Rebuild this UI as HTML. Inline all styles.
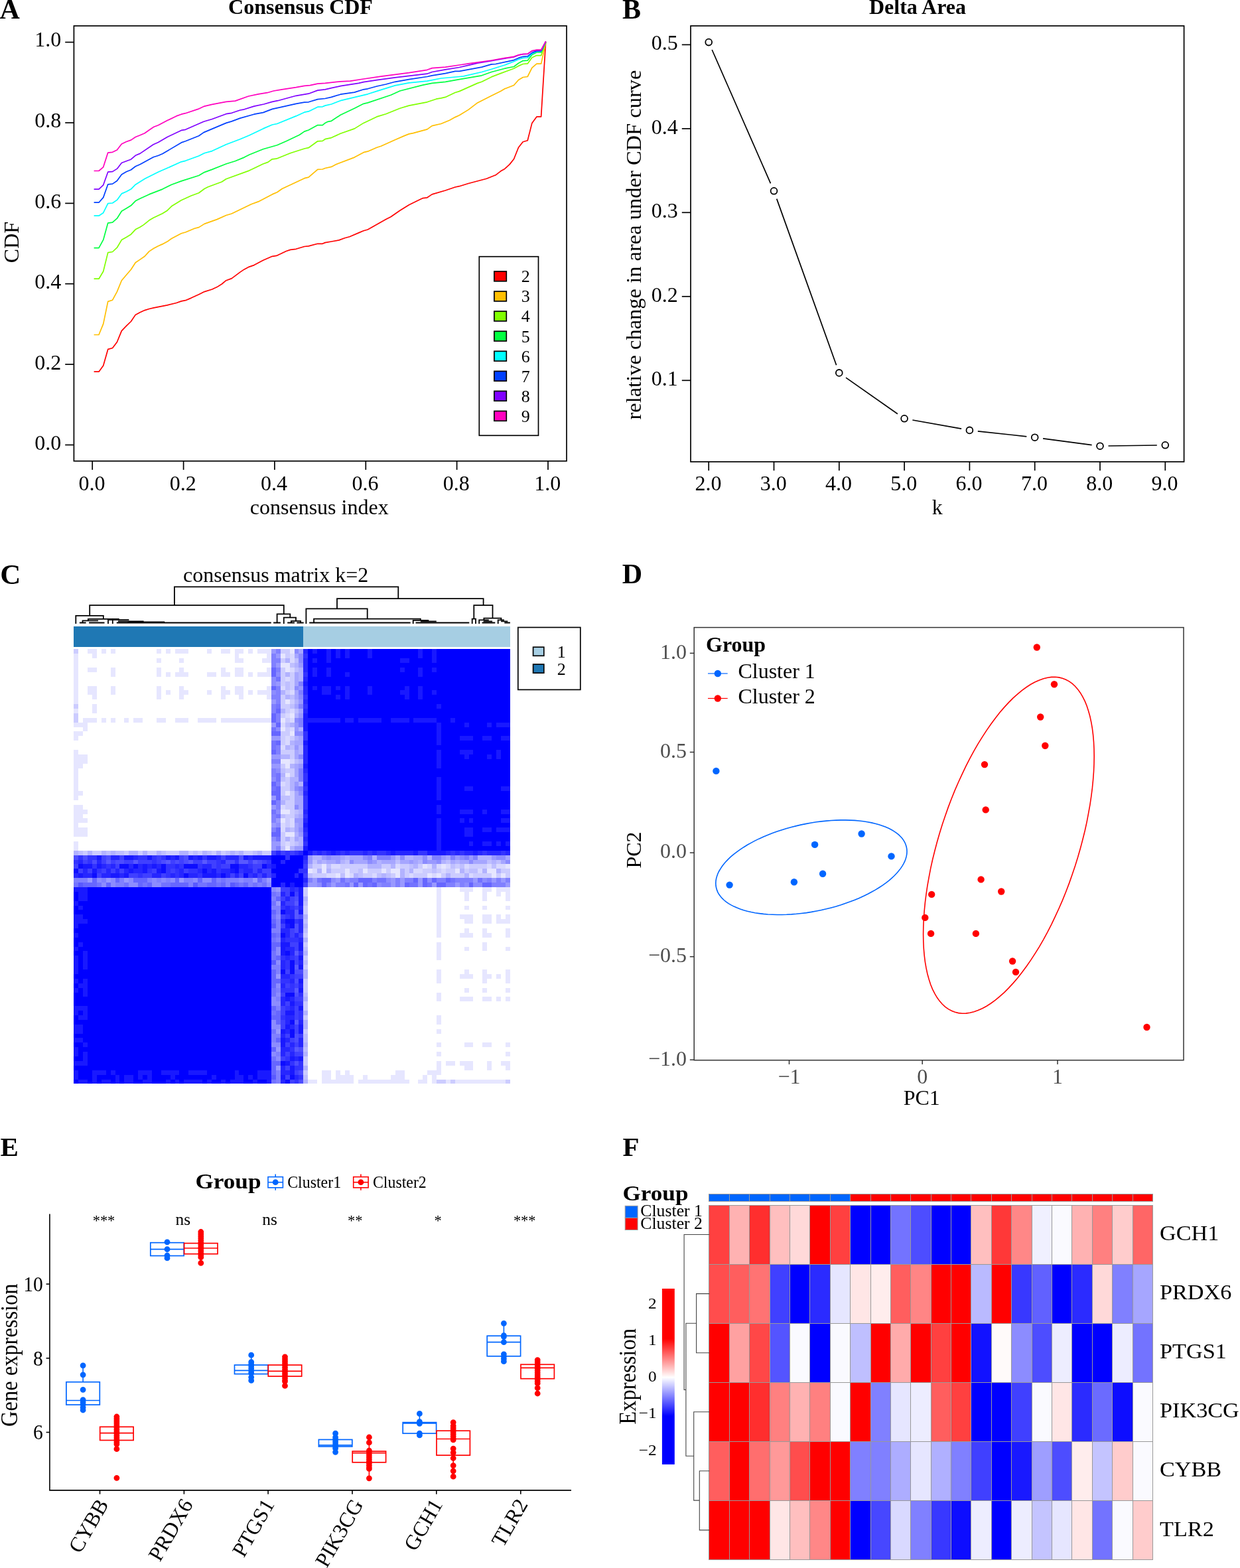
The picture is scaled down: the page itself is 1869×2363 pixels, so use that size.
<!DOCTYPE html>
<html lang="en">
<head>
<meta charset="utf-8">
<title>Consensus clustering figure</title>
<style>
html,body{margin:0;padding:0;background:#fff;}
body{width:1869px;height:2363px;overflow:hidden;}
svg{display:block;}
svg text{font-family:'Liberation Serif', 'DejaVu Serif', serif;}
</style>
</head>
<body>
<svg width="1869" height="2363" viewBox="0 0 1869 2363">
<rect width="1869" height="2363" fill="#fff"/>
<g id="panelA">
<text x="-0.4" y="28.1" font-size="42" font-weight="bold">A</text>
<text x="453" y="21.3" font-size="32" text-anchor="middle" font-weight="bold">Consensus CDF</text>
<rect x="111.4" y="39" width="742.6" height="655.8" fill="none" stroke="#000" stroke-width="1.7"/>
<line x1="98.2" y1="670.5" x2="111.4" y2="670.5" stroke="#000" stroke-width="1.7"/>
<text x="92.2" y="678.2" font-size="32" text-anchor="end">0.0</text>
<line x1="139.2" y1="694.8" x2="139.2" y2="708" stroke="#000" stroke-width="1.7"/>
<text x="138.4" y="738.5" font-size="32" text-anchor="middle">0.0</text>
<line x1="98.2" y1="549.1" x2="111.4" y2="549.1" stroke="#000" stroke-width="1.7"/>
<text x="92.2" y="556.6" font-size="32" text-anchor="end">0.2</text>
<line x1="276.6" y1="694.8" x2="276.6" y2="708" stroke="#000" stroke-width="1.7"/>
<text x="275.8" y="738.5" font-size="32" text-anchor="middle">0.2</text>
<line x1="98.2" y1="427.7" x2="111.4" y2="427.7" stroke="#000" stroke-width="1.7"/>
<text x="92.2" y="435.1" font-size="32" text-anchor="end">0.4</text>
<line x1="413.9" y1="694.8" x2="413.9" y2="708" stroke="#000" stroke-width="1.7"/>
<text x="413.1" y="738.5" font-size="32" text-anchor="middle">0.4</text>
<line x1="98.2" y1="306.4" x2="111.4" y2="306.4" stroke="#000" stroke-width="1.7"/>
<text x="92.2" y="313.5" font-size="32" text-anchor="end">0.6</text>
<line x1="551.3" y1="694.8" x2="551.3" y2="708" stroke="#000" stroke-width="1.7"/>
<text x="550.5" y="738.5" font-size="32" text-anchor="middle">0.6</text>
<line x1="98.2" y1="185" x2="111.4" y2="185" stroke="#000" stroke-width="1.7"/>
<text x="92.2" y="192" font-size="32" text-anchor="end">0.8</text>
<line x1="688.6" y1="694.8" x2="688.6" y2="708" stroke="#000" stroke-width="1.7"/>
<text x="687.8" y="738.5" font-size="32" text-anchor="middle">0.8</text>
<line x1="98.2" y1="63.6" x2="111.4" y2="63.6" stroke="#000" stroke-width="1.7"/>
<text x="92.2" y="70.4" font-size="32" text-anchor="end">1.0</text>
<line x1="826" y1="694.8" x2="826" y2="708" stroke="#000" stroke-width="1.7"/>
<text x="825.2" y="738.5" font-size="32" text-anchor="middle">1.0</text>
<text transform="translate(28,365) rotate(-90)" font-size="32" text-anchor="middle">CDF</text>
<text x="481.2" y="774.6" font-size="32" text-anchor="middle">consensus index</text>
<polyline points="141.6,560.2 149,560.2 155.7,550.9 162.7,526.4 169.6,524.5 176.4,515.5 183.3,498.6 190.5,491.2 197.4,484.5 204.2,474.4 211.1,470.8 218.1,467.6 224.8,465.5 231.8,463.8 252.2,459.8 265.9,456.5 273.3,453.9 279.6,452.7 288.1,449.1 299.7,443.8 308.1,439.6 319.7,436 327.1,432.6 334.4,428 340.8,422.7 349.2,419.6 361.9,410.1 368.2,405.9 375.6,402.1 382.9,399.6 396.6,392.2 410.3,386.3 416.7,385.4 431.4,378.5 437.7,376.4 446.2,375.3 458.8,371.5 465.1,370.9 478.8,367.3 486.2,367.3 490,365.6 499.5,364 511.1,361.9 519.5,358.7 526.9,356.8 540.6,350.9 548,347.7 554.3,346 568,338.2 581.7,330.4 589.1,326.7 602.8,317.2 616.5,308.7 630.2,302 637.5,298.6 643.9,297.8 651.2,292.9 671.3,287 686,282 692.3,280.7 706,276.5 733.4,269.3 747.1,263.8 754.5,258.1 760.8,254.4 768.2,247.6 774.5,239.8 781.5,222.3 788.2,213.7 795.2,211.8 801.9,185.4 808.9,175.9 815.6,175.9 822.6,62.8" fill="none" stroke="#FF0000" stroke-width="1.7" stroke-linejoin="round"/>
<polyline points="141.6,504.5 149,504.5 155.7,488.1 162.7,454.4 169.6,452.2 176.4,439.6 183.3,422.7 190.5,414.3 197.4,406.3 204.2,395.8 211.1,391.1 218.1,386.3 224.8,378.9 231.8,374.3 238.5,370.7 244.9,367.9 252.2,364.1 258.6,359.5 273.3,351.7 279.6,350 293.3,344.3 299.7,342.6 308.1,337.4 327.1,330.6 340.8,324.5 349.2,322 378.7,307.7 389.3,303.9 410.3,292.9 417.7,289.8 425.1,284.5 458.8,268.7 465.1,267.2 478.8,255.4 486.2,255 490,253.5 499.5,251.4 506.9,247.6 534.3,237.1 548,229.7 554.3,228.2 568,222.3 574.3,220.2 595.4,210.7 610.1,204.4 616.5,201.9 622.8,200.6 643.9,194.9 651.2,189.6 664.9,186.5 677.6,181.2 686,176.6 692.3,173.8 706,165.4 719.7,154.9 740.8,144.3 754.5,137.4 760.8,133.8 774.5,128.5 781.5,120.5 788.2,116.5 795.2,115.5 801.9,102.2 808.9,96.1 815.6,96.1 822.6,64.2" fill="none" stroke="#FFBF00" stroke-width="1.7" stroke-linejoin="round"/>
<polyline points="141.6,420.2 149,420.2 155.7,409 162.7,380.6 169.6,379.5 176.4,373.2 183.3,361.6 190.5,357.4 197.4,353.2 204.2,345.8 211.1,342.2 216.4,338.9 224.8,332.1 231.2,328.3 244.9,321.8 252.2,317.2 258.6,310.8 273.3,301.8 288.1,295 299.7,290.8 308.1,284.5 313.4,281.8 334.4,274 340.8,269.7 375.6,257.1 396.6,247 404,244.4 410.3,239.8 416.7,239.2 437.7,230.7 458.8,224 465.1,222.7 478.8,212.8 486.2,212.4 490,209.7 499.5,207.6 513.2,201.2 534.3,193.9 548,185.4 568,175.9 581.7,171.7 602.8,163.3 616.5,159.1 643.9,153.8 657.6,149.2 664.9,147.9 671.3,146.4 686,139.5 692.3,137.6 719.7,125.4 726.1,123.3 740.8,115.9 754.5,110.6 774.5,103.2 781.5,99.4 788.2,96.5 795.2,95.9 801.9,86.8 808.9,83.6 815.6,83.6 822.6,63.6" fill="none" stroke="#80FF00" stroke-width="1.7" stroke-linejoin="round"/>
<polyline points="141.6,373.7 149,373.7 155.7,361.4 162.7,336.1 169.6,335.1 176.4,329.2 183.3,318.2 190.5,314 197.4,309.8 204.2,302.8 211.1,299.3 224.8,292.9 244.9,285.1 258.6,278.2 273.3,272.9 299.7,264.5 308.1,259.6 319.7,255.4 340.8,247 354.5,242.8 368.2,237.1 375.6,233.3 396.6,224.8 417.7,218.7 431.4,212.8 451.4,203.3 458.8,198.1 465.1,196 478.8,188.6 486.2,188.6 490,185.4 494.2,183.3 499.5,182.3 513.2,173.2 534.3,163.3 548,156.3 554.3,154.9 589.1,143.3 602.8,137 637.5,128.1 651.2,125.4 671.3,123.3 692.3,119.7 726.1,113.8 740.8,108.5 760.8,103.2 774.5,100.5 781.5,95.2 788.2,91.6 795.2,91.2 801.9,82.6 808.9,79 815.6,79 822.6,63.2" fill="none" stroke="#00FF40" stroke-width="1.7" stroke-linejoin="round"/>
<polyline points="141.6,325.2 149,325.2 155.7,320.7 162.7,306.6 169.6,306 176.4,301.4 183.3,291.9 190.5,288.7 197.4,285.1 204.2,278.2 218.5,269.3 238.5,259.2 252.2,253.3 273.3,243.8 279.6,242.3 299.7,235 308.1,230.7 319.7,227.6 340.8,217.7 361.9,209.7 375.6,204 396.6,193.9 410.3,188 417.7,186.5 446.2,174.9 458.8,169.2 465.1,167.9 478.8,161.2 486.2,160.8 490,159.1 499.5,157 513.2,151.7 554.3,141.8 568,137.4 595.4,128.9 616.5,124.9 643.9,122.2 664.9,118 692.3,115.5 698.7,114.8 726.1,108.5 740.8,104.3 760.8,98 774.5,92.7 781.5,89.5 788.2,87.4 795.2,87 801.9,81.1 808.9,77.5 815.6,77.5 822.6,62.8" fill="none" stroke="#00FFFF" stroke-width="1.7" stroke-linejoin="round"/>
<polyline points="141.6,305.2 149,305.2 155.7,297.6 162.7,277.8 169.6,277.1 176.4,272.5 183.3,263 190.5,258.8 197.4,256 204.2,250.8 211.1,247.8 231.2,236.7 238.5,234.5 244.9,231.8 273.3,214.9 279.6,212.8 299.7,204.8 307,199.6 340.8,185.4 349.2,182.9 361.9,178.1 382.9,172.2 396.6,169.6 410.3,164.4 425.1,161.2 446.2,156.3 458.8,154.2 465.1,153.8 478.8,149.6 490,148.5 499.5,146.4 513.2,142.2 534.3,139.1 548,134.8 554.3,133.8 568,130 581.7,127 595.4,123.3 616.5,119.7 643.9,115.5 651.2,113.8 671.3,110.6 686,107.4 692.3,107.4 726.1,101.1 740.8,96.9 747.1,96.5 774.5,90.6 781.5,87.4 788.2,85.3 795.2,84.9 801.9,79.6 808.9,76.9 815.6,76.9 822.6,62.8" fill="none" stroke="#0040FF" stroke-width="1.7" stroke-linejoin="round"/>
<polyline points="141.6,285.1 149,285.1 155.7,278.8 162.7,259.2 169.6,258.6 176.4,254.4 183.3,245.5 190.5,242.8 197.4,240.2 204.2,234.3 211.1,231.4 231.2,217.7 238.5,214.5 252.2,206.5 273.3,196.4 279.6,195.3 307,183.3 319.7,179.5 340.8,171.7 349.2,170.3 361.9,166 368.2,164.8 382.9,160.1 397.7,157 410.3,153.4 418.8,151.7 446.2,144.3 465.1,141.2 478.8,136.1 490,134.8 499.5,132.7 513.2,129.6 540.6,125.4 548,123.7 568,120.7 595.4,116.9 643.9,111.2 651.2,108.5 671.3,104.9 692.3,101.5 706,98.4 719.7,95.2 740.8,91.6 754.5,89.1 774.5,85.9 781.5,83.2 788.2,81.7 795.2,81.5 801.9,76.9 808.9,75.8 815.6,75.8 822.6,62.3" fill="none" stroke="#8000FF" stroke-width="1.7" stroke-linejoin="round"/>
<polyline points="141.6,257.5 149,257.5 155.7,251.8 162.7,230.1 169.6,229.3 176.4,225.9 183.3,217 190.5,213.5 197.4,211.1 204.2,206.5 211.1,203.8 218.1,200.8 224.8,196 231.8,191.3 238.5,188.8 252.2,181.6 265.9,174.9 273.3,172.2 279.6,170.7 298.6,164.4 308.1,160.1 319.7,157.4 340.8,153.4 354.5,152.1 374.5,145 389.3,141.8 403,139.7 412.4,137 425.1,134.8 446.2,131.7 458.8,129.4 467.2,128.7 478.8,126.2 490,125.4 513.2,122.8 527.9,122.2 548,119 574.3,115.2 616.5,109.6 643.9,105.3 651.2,102.6 671.3,101.1 692.3,98 706,95.9 740.8,91 754.5,88.5 774.5,85.3 781.5,82.8 788.2,81.5 795.2,81.1 801.9,76.5 808.9,75.2 815.6,75.2 822.6,62.3" fill="none" stroke="#FF00BF" stroke-width="1.7" stroke-linejoin="round"/>
<rect x="722.3" y="386.7" width="89.2" height="269.6" fill="#fff" stroke="#000" stroke-width="1.7"/>
<rect x="744.9" y="409" width="18.4" height="14.8" fill="#FF0000" stroke="#000" stroke-width="1.7"/>
<text x="785.8" y="425.3" font-size="26">2</text>
<rect x="744.9" y="439.1" width="18.4" height="14.8" fill="#FFBF00" stroke="#000" stroke-width="1.7"/>
<text x="785.8" y="455.4" font-size="26">3</text>
<rect x="744.9" y="469.1" width="18.4" height="14.8" fill="#80FF00" stroke="#000" stroke-width="1.7"/>
<text x="785.8" y="485.4" font-size="26">4</text>
<rect x="744.9" y="499.2" width="18.4" height="14.8" fill="#00FF40" stroke="#000" stroke-width="1.7"/>
<text x="785.8" y="515.5" font-size="26">5</text>
<rect x="744.9" y="529.3" width="18.4" height="14.8" fill="#00FFFF" stroke="#000" stroke-width="1.7"/>
<text x="785.8" y="545.6" font-size="26">6</text>
<rect x="744.9" y="559.4" width="18.4" height="14.8" fill="#0040FF" stroke="#000" stroke-width="1.7"/>
<text x="785.8" y="575.6" font-size="26">7</text>
<rect x="744.9" y="589.4" width="18.4" height="14.8" fill="#8000FF" stroke="#000" stroke-width="1.7"/>
<text x="785.8" y="605.7" font-size="26">8</text>
<rect x="744.9" y="619.5" width="18.4" height="14.8" fill="#FF00BF" stroke="#000" stroke-width="1.7"/>
<text x="785.8" y="635.8" font-size="26">9</text>
</g>
<g id="panelB">
<text x="938" y="28" font-size="42" font-weight="bold">B</text>
<text x="1383" y="21.3" font-size="32" text-anchor="middle" font-weight="bold">Delta Area</text>
<rect x="1041" y="39" width="743.6" height="656.9" fill="none" stroke="#000" stroke-width="1.7"/>
<line x1="1027.8" y1="573.3" x2="1041" y2="573.3" stroke="#000" stroke-width="1.7"/>
<text x="1021.8" y="581.1" font-size="32" text-anchor="end">0.1</text>
<line x1="1027.8" y1="446.8" x2="1041" y2="446.8" stroke="#000" stroke-width="1.7"/>
<text x="1021.8" y="454.6" font-size="32" text-anchor="end">0.2</text>
<line x1="1027.8" y1="320.3" x2="1041" y2="320.3" stroke="#000" stroke-width="1.7"/>
<text x="1021.8" y="328.1" font-size="32" text-anchor="end">0.3</text>
<line x1="1027.8" y1="193.9" x2="1041" y2="193.9" stroke="#000" stroke-width="1.7"/>
<text x="1021.8" y="201.7" font-size="32" text-anchor="end">0.4</text>
<line x1="1027.8" y1="67.4" x2="1041" y2="67.4" stroke="#000" stroke-width="1.7"/>
<text x="1021.8" y="75.2" font-size="32" text-anchor="end">0.5</text>
<line x1="1068.2" y1="695.9" x2="1068.2" y2="709.2" stroke="#000" stroke-width="1.7"/>
<text x="1067.4" y="738.5" font-size="32" text-anchor="middle">2.0</text>
<line x1="1166.5" y1="695.9" x2="1166.5" y2="709.2" stroke="#000" stroke-width="1.7"/>
<text x="1165.7" y="738.5" font-size="32" text-anchor="middle">3.0</text>
<line x1="1264.8" y1="695.9" x2="1264.8" y2="709.2" stroke="#000" stroke-width="1.7"/>
<text x="1264" y="738.5" font-size="32" text-anchor="middle">4.0</text>
<line x1="1363.1" y1="695.9" x2="1363.1" y2="709.2" stroke="#000" stroke-width="1.7"/>
<text x="1362.3" y="738.5" font-size="32" text-anchor="middle">5.0</text>
<line x1="1461.4" y1="695.9" x2="1461.4" y2="709.2" stroke="#000" stroke-width="1.7"/>
<text x="1460.6" y="738.5" font-size="32" text-anchor="middle">6.0</text>
<line x1="1559.7" y1="695.9" x2="1559.7" y2="709.2" stroke="#000" stroke-width="1.7"/>
<text x="1558.9" y="738.5" font-size="32" text-anchor="middle">7.0</text>
<line x1="1658" y1="695.9" x2="1658" y2="709.2" stroke="#000" stroke-width="1.7"/>
<text x="1657.2" y="738.5" font-size="32" text-anchor="middle">8.0</text>
<line x1="1756.3" y1="695.9" x2="1756.3" y2="709.2" stroke="#000" stroke-width="1.7"/>
<text x="1755.5" y="738.5" font-size="32" text-anchor="middle">9.0</text>
<text transform="translate(966,369.1) rotate(-90)" font-size="32.5" text-anchor="middle">relative change in area under CDF curve</text>
<text x="1412.8" y="774.6" font-size="32" text-anchor="middle">k</text>
<line x1="1073.2" y1="75" x2="1161.5" y2="276.4" stroke="#000" stroke-width="1.7"/>
<line x1="1170.7" y1="299.6" x2="1260.6" y2="550.2" stroke="#000" stroke-width="1.7"/>
<line x1="1275" y1="569.1" x2="1352.9" y2="623.7" stroke="#000" stroke-width="1.7"/>
<line x1="1375.4" y1="633" x2="1449.1" y2="646.2" stroke="#000" stroke-width="1.7"/>
<line x1="1473.8" y1="649.8" x2="1547.3" y2="657.8" stroke="#000" stroke-width="1.7"/>
<line x1="1572.1" y1="660.8" x2="1645.6" y2="670.6" stroke="#000" stroke-width="1.7"/>
<line x1="1670.5" y1="672" x2="1743.8" y2="671" stroke="#000" stroke-width="1.7"/>
<circle cx="1068.2" cy="63.6" r="4.9" fill="none" stroke="#000" stroke-width="1.8"/>
<circle cx="1166.5" cy="287.8" r="4.9" fill="none" stroke="#000" stroke-width="1.8"/>
<circle cx="1264.8" cy="561.9" r="4.9" fill="none" stroke="#000" stroke-width="1.8"/>
<circle cx="1363.1" cy="630.8" r="4.9" fill="none" stroke="#000" stroke-width="1.8"/>
<circle cx="1461.4" cy="648.4" r="4.9" fill="none" stroke="#000" stroke-width="1.8"/>
<circle cx="1559.7" cy="659.2" r="4.9" fill="none" stroke="#000" stroke-width="1.8"/>
<circle cx="1658" cy="672.2" r="4.9" fill="none" stroke="#000" stroke-width="1.8"/>
<circle cx="1756.3" cy="670.8" r="4.9" fill="none" stroke="#000" stroke-width="1.8"/>
</g>
<g id="panelC">
<text x="0.3" y="879.6" font-size="43" font-weight="bold">C</text>
<text x="415.6" y="877.2" font-size="32" text-anchor="middle">consensus matrix k=2</text>
<path d="M262.9 884.3L600.3 884.3M262.9 884.3L262.9 912.1M600.3 884.3L600.3 902.1M135.2 912.1L427.8 912.1M135.2 912.1L135.2 927.9M427.8 912.1L427.8 925.3M114.3 927.9L155.8 927.9M114.3 927.9L114.3 939.1M155.8 927.9L155.8 932.9M132.9 932.9L178.8 932.9M124.5 935.3L147.2 935.3M164 934.2L193.5 934.2M178.8 936.4L215.7 936.4M193.5 937.4L247.3 937.4M120.8 938.5L128.7 938.5M135 938.5L156.6 938.5M176.7 938.5L407.8 938.5M163 934.2L163 939.1M169.8 934.2L169.8 939.1M132.9 932.9L132.9 935.3M124.5 935.3L124.5 938.5M417.6 925.3L437.3 925.3M417.6 925.3L417.6 938.5M413 938.5L422 938.5M437.3 925.3L437.3 930.6M427.8 930.6L446 930.6M427.8 930.6L427.8 939.1M446 930.6L446 935.8M438.9 935.8L453.1 935.8M438.9 935.8L438.9 938.5M453.1 935.8L453.1 938.5M434.1 938.5L443.1 938.5M448.3 938.5L456.8 938.5M508 902.1L728.6 902.1M508 902.1L508 917.4M728.6 902.1L728.6 912.1M461.4 917.4L553.7 917.4M461.4 917.4L461.4 939.1M553.7 917.4L553.7 932.7M473.1 932.7L633.8 932.7M473.1 932.7L473.1 938.5M467.1 938.5L617.8 938.5M622.7 934.8L622.7 939.1M622.7 934.8L645.3 934.8M634.8 936.4L656.9 936.4M627.4 938.5L706.4 938.5M633.8 932.7L633.8 934.8M714.3 912.1L742.5 912.1M714.3 912.1L714.3 932.7M711.7 932.7L717 932.7M711.7 932.7L711.7 939.1M717 932.7L717 939.1M742.5 912.1L742.5 931.6M729.4 931.6L755.4 931.6M729.4 931.6L729.4 934.3M722.2 934.3L735.9 934.3M722.2 934.3L722.2 939.1M729.6 936.4L741.2 936.4M727.5 938.5L745.4 938.5M755.4 931.6L755.4 934.3M750.7 934.3L759.1 934.3M750.7 934.3L750.7 939.1M756 936.4L764.4 936.4M761.2 938.5L768 938.5" fill="none" stroke="#000" stroke-width="1.8" stroke-linecap="square"/>
<g shape-rendering="crispEdges">
<rect x="111.2" y="943.8" width="346.1" height="31.3" fill="#1F78B4"/>
<rect x="457.3" y="943.8" width="311.5" height="31.3" fill="#A6CEE3"/>
</g>
<g shape-rendering="crispEdges">
<path fill="#0000FF" d="M464.2 978.3H471.1V985.2H464.2zM478.1 978.3H491.9V985.2H478.1zM498.8 978.3H505.8V985.2H498.8zM512.7 978.3H519.6V985.2H512.7zM526.5 978.3H554.2V985.2H526.5zM561.1 978.3H630.4V985.2H561.1zM637.3 978.3H651.1V985.2H637.3zM658 978.3H768.8V985.2H658zM464.2 985.2H491.9V992.1H464.2zM498.8 985.2H505.8V992.1H498.8zM512.7 985.2H519.6V992.1H512.7zM526.5 985.2H554.2V992.1H526.5zM561.1 985.2H630.4V992.1H561.1zM637.3 985.2H651.1V992.1H637.3zM658 985.2H768.8V992.1H658zM464.2 992.1H471.1V999H464.2zM478.1 992.1H491.9V999H478.1zM498.8 992.1H602.7V999H498.8zM616.5 992.1H651.1V999H616.5zM658 992.1H768.8V999H658zM464.2 999H768.8V1005.9H464.2zM464.2 1005.9H471.1V1012.8H464.2zM478.1 1005.9H491.9V1012.8H478.1zM498.8 1005.9H602.7V1012.8H498.8zM609.6 1005.9H630.4V1012.8H609.6zM637.3 1005.9H651.1V1012.8H637.3zM658 1005.9H768.8V1012.8H658zM464.2 1012.8H471.1V1019.7H464.2zM478.1 1012.8H491.9V1019.7H478.1zM498.8 1012.8H519.6V1019.7H498.8zM526.5 1012.8H630.4V1019.7H526.5zM637.3 1012.8H768.8V1019.7H637.3zM464.2 1019.7H768.8V1026.6H464.2zM464.2 1026.6H768.8V1033.5H464.2zM464.2 1033.5H471.1V1040.4H464.2zM478.1 1033.5H485V1040.4H478.1zM498.8 1033.5H505.8V1040.4H498.8zM512.7 1033.5H519.6V1040.4H512.7zM526.5 1033.5H554.2V1040.4H526.5zM561.1 1033.5H609.6V1040.4H561.1zM616.5 1033.5H630.4V1040.4H616.5zM637.3 1033.5H768.8V1040.4H637.3zM464.2 1040.4H485V1047.3H464.2zM498.8 1040.4H519.6V1047.3H498.8zM526.5 1040.4H554.2V1047.3H526.5zM561.1 1040.4H602.7V1047.3H561.1zM616.5 1040.4H630.4V1047.3H616.5zM637.3 1040.4H651.1V1047.3H637.3zM658 1040.4H768.8V1047.3H658zM464.2 1047.3H505.8V1054.2H464.2zM512.7 1047.3H519.6V1054.2H512.7zM526.5 1047.3H609.6V1054.2H526.5zM616.5 1047.3H630.4V1054.2H616.5zM637.3 1047.3H768.8V1054.2H637.3zM464.2 1054.2H768.8V1061H464.2zM464.2 1061H658V1067.9H464.2zM665 1061H768.8V1067.9H665zM464.2 1067.9H768.8V1074.8H464.2zM464.2 1074.8H768.8V1081.7H464.2zM512.7 1081.7H519.6V1088.6H512.7zM533.4 1081.7H540.4V1088.6H533.4zM575 1081.7H588.8V1088.6H575zM616.5 1081.7H623.4V1088.6H616.5zM658 1081.7H678.8V1088.6H658zM685.7 1081.7H768.8V1088.6H685.7zM464.2 1088.6H658V1095.5H464.2zM665 1088.6H699.6V1095.5H665zM706.5 1088.6H734.2V1095.5H706.5zM741.1 1088.6H748V1095.5H741.1zM464.2 1095.5H658V1102.4H464.2zM665 1095.5H768.8V1102.4H665zM464.2 1102.4H658V1109.3H464.2zM665 1102.4H768.8V1109.3H665zM464.2 1109.3H658V1116.2H464.2zM665 1109.3H692.7V1116.2H665zM713.4 1109.3H727.3V1116.2H713.4zM741.1 1109.3H755V1116.2H741.1zM464.2 1116.2H658V1123.1H464.2zM665 1116.2H768.8V1123.1H665zM464.2 1123.1H768.8V1130H464.2zM464.2 1130H658V1136.9H464.2zM665 1130H692.7V1136.9H665zM713.4 1130H748V1136.9H713.4zM755 1130H768.8V1136.9H755zM464.2 1136.9H658V1143.8H464.2zM665 1136.9H699.6V1143.8H665zM706.5 1136.9H734.2V1143.8H706.5zM741.1 1136.9H748V1143.8H741.1zM755 1136.9H768.8V1143.8H755zM464.2 1143.8H658V1150.7H464.2zM665 1143.8H768.8V1150.7H665zM464.2 1150.7H658V1157.6H464.2zM665 1150.7H768.8V1157.6H665zM464.2 1157.6H768.8V1164.5H464.2zM464.2 1164.5H768.8V1171.4H464.2zM464.2 1171.4H658V1178.3H464.2zM665 1171.4H768.8V1178.3H665zM464.2 1178.3H658V1185.2H464.2zM665 1178.3H768.8V1185.2H665zM464.2 1185.2H658V1192.1H464.2zM665 1185.2H699.6V1192.1H665zM713.4 1185.2H755V1192.1H713.4zM464.2 1192.1H658V1199H464.2zM665 1192.1H768.8V1199H665zM464.2 1199H658V1205.9H464.2zM665 1199H768.8V1205.9H665zM464.2 1205.9H768.8V1212.8H464.2zM464.2 1212.8H658V1219.7H464.2zM665 1212.8H768.8V1219.7H665zM464.2 1219.7H658V1226.5H464.2zM665 1219.7H692.7V1226.5H665zM713.4 1219.7H727.3V1226.5H713.4zM734.2 1219.7H755V1226.5H734.2zM464.2 1226.5H768.8V1233.4H464.2zM464.2 1233.4H658V1240.3H464.2zM665 1233.4H692.7V1240.3H665zM699.6 1233.4H706.5V1240.3H699.6zM713.4 1233.4H755V1240.3H713.4zM464.2 1240.3H658V1247.2H464.2zM665 1240.3H768.8V1247.2H665zM464.2 1247.2H658V1254.1H464.2zM665 1247.2H699.6V1254.1H665zM713.4 1247.2H727.3V1254.1H713.4zM741.1 1247.2H748V1254.1H741.1zM464.2 1254.1H658V1261H464.2zM665 1254.1H699.6V1261H665zM713.4 1254.1H768.8V1261H713.4zM464.2 1261H658V1267.9H464.2zM665 1261H768.8V1267.9H665zM464.2 1267.9H658V1274.8H464.2zM665 1267.9H706.5V1274.8H665zM713.4 1267.9H727.3V1274.8H713.4zM741.1 1267.9H748V1274.8H741.1zM755 1267.9H761.9V1274.8H755zM464.2 1274.8H658V1281.7H464.2zM665 1274.8H768.8V1281.7H665zM457.3 1281.7H464.2V1288.6H457.3zM408.9 1288.6H429.6V1295.5H408.9zM436.5 1288.6H457.3V1295.5H436.5zM408.9 1295.5H422.7V1302.4H408.9zM429.6 1295.5H457.3V1302.4H429.6zM415.8 1302.4H457.3V1309.3H415.8zM408.9 1309.3H450.4V1316.2H408.9zM415.8 1316.2H443.5V1323.1H415.8zM450.4 1316.2H457.3V1323.1H450.4zM408.9 1323.1H457.3V1330H408.9zM408.9 1330H422.7V1336.9H408.9zM429.6 1330H436.5V1336.9H429.6zM443.5 1330H457.3V1336.9H443.5zM132 1336.9H408.9V1343.8H132zM111.2 1343.8H118.1V1350.7H111.2zM132 1343.8H408.9V1350.7H132zM111.2 1350.7H118.1V1357.6H111.2zM132 1350.7H408.9V1357.6H132zM118.1 1357.6H408.9V1364.5H118.1zM111.2 1364.5H118.1V1371.4H111.2zM125 1364.5H408.9V1371.4H125zM111.2 1371.4H408.9V1378.3H111.2zM125 1378.3H408.9V1385.2H125zM132 1385.2H408.9V1392H132zM118.1 1392H408.9V1398.9H118.1zM111.2 1398.9H408.9V1405.8H111.2zM118.1 1405.8H408.9V1412.7H118.1zM111.2 1412.7H408.9V1419.6H111.2zM111.2 1419.6H118.1V1426.5H111.2zM125 1419.6H408.9V1426.5H125zM118.1 1426.5H408.9V1433.4H118.1zM111.2 1433.4H125V1440.3H111.2zM132 1433.4H408.9V1440.3H132zM118.1 1440.3H125V1447.2H118.1zM132 1440.3H408.9V1447.2H132zM118.1 1447.2H125V1454.1H118.1zM132 1447.2H408.9V1454.1H132zM118.1 1454.1H125V1461H118.1zM132 1454.1H408.9V1461H132zM118.1 1461H408.9V1467.9H118.1zM111.2 1467.9H408.9V1474.8H111.2zM118.1 1474.8H125V1481.7H118.1zM132 1474.8H408.9V1481.7H132zM111.2 1481.7H118.1V1488.6H111.2zM132 1481.7H408.9V1488.6H132zM118.1 1488.6H125V1495.5H118.1zM132 1488.6H408.9V1495.5H132zM111.2 1495.5H125V1502.4H111.2zM132 1495.5H408.9V1502.4H132zM111.2 1502.4H408.9V1509.3H111.2zM111.2 1509.3H408.9V1516.2H111.2zM132 1516.2H408.9V1523.1H132zM118.1 1523.1H125V1530H118.1zM132 1523.1H408.9V1530H132zM111.2 1530H118.1V1536.9H111.2zM132 1530H408.9V1536.9H132zM111.2 1536.9H408.9V1543.8H111.2zM125 1543.8H408.9V1550.7H125zM125 1550.7H408.9V1557.5H125zM111.2 1557.5H408.9V1564.4H111.2zM125 1564.4H408.9V1571.3H125zM111.2 1571.3H125V1578.2H111.2zM132 1571.3H408.9V1578.2H132zM118.1 1578.2H408.9V1585.1H118.1zM118.1 1585.1H125V1592H118.1zM132 1585.1H408.9V1592H132zM111.2 1592H125V1598.9H111.2zM132 1592H408.9V1598.9H132zM132 1598.9H408.9V1605.8H132zM111.2 1605.8H408.9V1612.7H111.2zM118.1 1612.7H138.9V1619.6H118.1zM159.7 1612.7H166.6V1619.6H159.7zM173.5 1612.7H208.1V1619.6H173.5zM228.9 1612.7H242.7V1619.6H228.9zM270.4 1612.7H284.3V1619.6H270.4zM311.9 1612.7H353.5V1619.6H311.9zM360.4 1612.7H388.1V1619.6H360.4zM118.1 1619.6H138.9V1626.5H118.1zM145.8 1619.6H173.5V1626.5H145.8zM180.4 1619.6H187.3V1626.5H180.4zM201.2 1619.6H208.1V1626.5H201.2zM215 1619.6H222V1626.5H215zM228.9 1619.6H256.6V1626.5H228.9zM263.5 1619.6H318.9V1626.5H263.5zM325.8 1619.6H353.5V1626.5H325.8zM367.3 1619.6H374.2V1626.5H367.3zM381.2 1619.6H388.1V1626.5H381.2zM111.2 1626.5H118.1V1633.4H111.2zM132 1626.5H138.9V1633.4H132zM145.8 1626.5H152.7V1633.4H145.8zM166.6 1626.5H173.5V1633.4H166.6zM180.4 1626.5H187.3V1633.4H180.4zM201.2 1626.5H215V1633.4H201.2zM228.9 1626.5H249.6V1633.4H228.9zM256.6 1626.5H263.5V1633.4H256.6zM270.4 1626.5H277.3V1633.4H270.4zM305 1626.5H311.9V1633.4H305zM318.9 1626.5H332.7V1633.4H318.9zM339.6 1626.5H346.6V1633.4H339.6zM367.3 1626.5H381.2V1633.4H367.3zM388.1 1626.5H401.9V1633.4H388.1z"/>
<path fill="#0D0DFF" d="M118.1 1302.4H125V1309.3H118.1zM180.4 1302.4H194.3V1309.3H180.4zM201.2 1302.4H208.1V1309.3H201.2zM242.7 1302.4H249.6V1309.3H242.7zM277.3 1302.4H298.1V1309.3H277.3zM346.6 1302.4H360.4V1309.3H346.6zM395 1302.4H401.9V1309.3H395zM111.2 1309.3H118.1V1316.2H111.2zM242.7 1309.3H249.6V1316.2H242.7zM305 1309.3H311.9V1316.2H305zM353.5 1309.3H360.4V1316.2H353.5zM138.9 1316.2H145.8V1323.1H138.9zM277.3 1316.2H284.3V1323.1H277.3zM332.7 1316.2H339.6V1323.1H332.7zM367.3 1316.2H374.2V1323.1H367.3zM436.5 1343.8H443.5V1350.7H436.5zM422.7 1371.4H429.6V1378.3H422.7zM429.6 1385.2H443.5V1392H429.6zM436.5 1392H443.5V1398.9H436.5zM422.7 1405.8H429.6V1412.7H422.7zM429.6 1433.4H436.5V1440.3H429.6zM436.5 1447.2H443.5V1454.1H436.5zM436.5 1454.1H443.5V1461H436.5zM422.7 1461H429.6V1467.9H422.7zM436.5 1461H443.5V1467.9H436.5zM429.6 1495.5H443.5V1502.4H429.6zM436.5 1536.9H443.5V1543.8H436.5zM436.5 1550.7H443.5V1557.5H436.5zM436.5 1557.5H443.5V1564.4H436.5zM422.7 1598.9H429.6V1605.8H422.7zM436.5 1619.6H443.5V1626.5H436.5zM429.6 1626.5H436.5V1633.4H429.6z"/>
<path fill="#1919FF" d="M471.1 978.3H478.1V985.2H471.1zM491.9 978.3H498.8V985.2H491.9zM505.8 978.3H512.7V985.2H505.8zM519.6 978.3H526.5V985.2H519.6zM554.2 978.3H561.1V985.2H554.2zM630.4 978.3H637.3V985.2H630.4zM651.1 978.3H658V985.2H651.1zM491.9 985.2H498.8V992.1H491.9zM505.8 985.2H512.7V992.1H505.8zM519.6 985.2H526.5V992.1H519.6zM554.2 985.2H561.1V992.1H554.2zM630.4 985.2H637.3V992.1H630.4zM651.1 985.2H658V992.1H651.1zM471.1 992.1H478.1V999H471.1zM491.9 992.1H498.8V999H491.9zM602.7 992.1H616.5V999H602.7zM651.1 992.1H658V999H651.1zM471.1 1005.9H478.1V1012.8H471.1zM491.9 1005.9H498.8V1012.8H491.9zM602.7 1005.9H609.6V1012.8H602.7zM630.4 1005.9H637.3V1012.8H630.4zM651.1 1005.9H658V1012.8H651.1zM471.1 1012.8H478.1V1019.7H471.1zM491.9 1012.8H498.8V1019.7H491.9zM519.6 1012.8H526.5V1019.7H519.6zM630.4 1012.8H637.3V1019.7H630.4zM457.3 1026.6H464.2V1033.5H457.3zM471.1 1033.5H478.1V1040.4H471.1zM485 1033.5H498.8V1040.4H485zM505.8 1033.5H512.7V1040.4H505.8zM519.6 1033.5H526.5V1040.4H519.6zM554.2 1033.5H561.1V1040.4H554.2zM609.6 1033.5H616.5V1040.4H609.6zM630.4 1033.5H637.3V1040.4H630.4zM485 1040.4H498.8V1047.3H485zM519.6 1040.4H526.5V1047.3H519.6zM554.2 1040.4H561.1V1047.3H554.2zM602.7 1040.4H616.5V1047.3H602.7zM630.4 1040.4H637.3V1047.3H630.4zM651.1 1040.4H658V1047.3H651.1zM505.8 1047.3H512.7V1054.2H505.8zM519.6 1047.3H526.5V1054.2H519.6zM609.6 1047.3H616.5V1054.2H609.6zM630.4 1047.3H637.3V1054.2H630.4zM658 1061H665V1067.9H658zM457.3 1074.8H464.2V1081.7H457.3zM457.3 1081.7H512.7V1088.6H457.3zM519.6 1081.7H533.4V1088.6H519.6zM540.4 1081.7H575V1088.6H540.4zM588.8 1081.7H616.5V1088.6H588.8zM623.4 1081.7H658V1088.6H623.4zM678.8 1081.7H685.7V1088.6H678.8zM457.3 1088.6H464.2V1095.5H457.3zM658 1088.6H665V1095.5H658zM699.6 1088.6H706.5V1095.5H699.6zM734.2 1088.6H741.1V1095.5H734.2zM748 1088.6H768.8V1095.5H748zM457.3 1095.5H464.2V1102.4H457.3zM658 1095.5H665V1102.4H658zM658 1102.4H665V1109.3H658zM658 1109.3H665V1116.2H658zM692.7 1109.3H713.4V1116.2H692.7zM727.3 1109.3H741.1V1116.2H727.3zM755 1109.3H768.8V1116.2H755zM457.3 1116.2H464.2V1123.1H457.3zM658 1116.2H665V1123.1H658zM658 1130H665V1136.9H658zM692.7 1130H713.4V1136.9H692.7zM748 1130H755V1136.9H748zM658 1136.9H665V1143.8H658zM699.6 1136.9H706.5V1143.8H699.6zM734.2 1136.9H741.1V1143.8H734.2zM748 1136.9H755V1143.8H748zM658 1143.8H665V1150.7H658zM457.3 1150.7H464.2V1157.6H457.3zM658 1150.7H665V1157.6H658zM658 1171.4H665V1178.3H658zM658 1178.3H665V1185.2H658zM658 1185.2H665V1192.1H658zM699.6 1185.2H713.4V1192.1H699.6zM755 1185.2H768.8V1192.1H755zM658 1192.1H665V1199H658zM658 1199H665V1205.9H658zM658 1212.8H665V1219.7H658zM658 1219.7H665V1226.5H658zM692.7 1219.7H713.4V1226.5H692.7zM727.3 1219.7H734.2V1226.5H727.3zM755 1219.7H768.8V1226.5H755zM658 1233.4H665V1240.3H658zM692.7 1233.4H699.6V1240.3H692.7zM706.5 1233.4H713.4V1240.3H706.5zM755 1233.4H768.8V1240.3H755zM457.3 1240.3H464.2V1247.2H457.3zM658 1240.3H665V1247.2H658zM658 1247.2H665V1254.1H658zM699.6 1247.2H713.4V1254.1H699.6zM727.3 1247.2H741.1V1254.1H727.3zM748 1247.2H768.8V1254.1H748zM658 1254.1H665V1261H658zM699.6 1254.1H713.4V1261H699.6zM658 1261H665V1267.9H658zM658 1267.9H665V1274.8H658zM706.5 1267.9H713.4V1274.8H706.5zM727.3 1267.9H741.1V1274.8H727.3zM748 1267.9H755V1274.8H748zM761.9 1267.9H768.8V1274.8H761.9zM457.3 1274.8H464.2V1281.7H457.3zM658 1274.8H665V1281.7H658zM464.2 1281.7H471.1V1288.6H464.2zM498.8 1281.7H505.8V1288.6H498.8zM588.8 1281.7H595.7V1288.6H588.8zM623.4 1281.7H630.4V1288.6H623.4zM644.2 1281.7H671.9V1288.6H644.2zM713.4 1281.7H720.3V1288.6H713.4zM145.8 1288.6H152.7V1295.5H145.8zM187.3 1288.6H201.2V1295.5H187.3zM222 1288.6H228.9V1295.5H222zM249.6 1288.6H256.6V1295.5H249.6zM263.5 1288.6H270.4V1295.5H263.5zM284.3 1288.6H291.2V1295.5H284.3zM298.1 1288.6H305V1295.5H298.1zM311.9 1288.6H325.8V1295.5H311.9zM367.3 1288.6H374.2V1295.5H367.3zM381.2 1288.6H408.9V1295.5H381.2zM125 1302.4H138.9V1309.3H125zM145.8 1302.4H152.7V1309.3H145.8zM215 1302.4H222V1309.3H215zM228.9 1302.4H235.8V1309.3H228.9zM408.9 1302.4H415.8V1309.3H408.9zM138.9 1309.3H145.8V1316.2H138.9zM194.3 1309.3H201.2V1316.2H194.3zM215 1309.3H222V1316.2H215zM235.8 1309.3H242.7V1316.2H235.8zM318.9 1309.3H325.8V1316.2H318.9zM346.6 1309.3H353.5V1316.2H346.6zM118.1 1316.2H125V1323.1H118.1zM166.6 1316.2H180.4V1323.1H166.6zM187.3 1316.2H194.3V1323.1H187.3zM305 1316.2H325.8V1323.1H305zM436.5 1330H443.5V1336.9H436.5zM111.2 1336.9H132V1343.8H111.2zM450.4 1336.9H457.3V1343.8H450.4zM118.1 1343.8H132V1350.7H118.1zM450.4 1343.8H457.3V1350.7H450.4zM118.1 1350.7H132V1357.6H118.1zM450.4 1350.7H457.3V1357.6H450.4zM111.2 1357.6H118.1V1364.5H111.2zM450.4 1357.6H457.3V1364.5H450.4zM118.1 1364.5H125V1371.4H118.1zM450.4 1371.4H457.3V1378.3H450.4zM111.2 1378.3H125V1385.2H111.2zM111.2 1385.2H132V1392H111.2zM111.2 1392H118.1V1398.9H111.2zM429.6 1392H436.5V1398.9H429.6zM111.2 1405.8H118.1V1412.7H111.2zM118.1 1419.6H125V1426.5H118.1zM422.7 1419.6H436.5V1426.5H422.7zM450.4 1419.6H457.3V1426.5H450.4zM111.2 1426.5H118.1V1433.4H111.2zM422.7 1426.5H429.6V1433.4H422.7zM450.4 1426.5H457.3V1433.4H450.4zM125 1433.4H132V1440.3H125zM422.7 1433.4H429.6V1440.3H422.7zM111.2 1440.3H118.1V1447.2H111.2zM125 1440.3H132V1447.2H125zM450.4 1440.3H457.3V1447.2H450.4zM111.2 1447.2H118.1V1454.1H111.2zM125 1447.2H132V1454.1H125zM111.2 1454.1H118.1V1461H111.2zM125 1454.1H132V1461H125zM450.4 1454.1H457.3V1461H450.4zM111.2 1461H118.1V1467.9H111.2zM111.2 1474.8H118.1V1481.7H111.2zM125 1474.8H132V1481.7H125zM450.4 1474.8H457.3V1481.7H450.4zM118.1 1481.7H132V1488.6H118.1zM111.2 1488.6H118.1V1495.5H111.2zM125 1488.6H132V1495.5H125zM450.4 1488.6H457.3V1495.5H450.4zM125 1495.5H132V1502.4H125zM429.6 1502.4H436.5V1509.3H429.6zM436.5 1509.3H443.5V1516.2H436.5zM111.2 1516.2H132V1523.1H111.2zM450.4 1516.2H457.3V1523.1H450.4zM111.2 1523.1H118.1V1530H111.2zM125 1523.1H132V1530H125zM429.6 1523.1H443.5V1530H429.6zM118.1 1530H132V1536.9H118.1zM111.2 1543.8H125V1550.7H111.2zM429.6 1543.8H436.5V1550.7H429.6zM450.4 1543.8H457.3V1550.7H450.4zM111.2 1550.7H125V1557.5H111.2zM422.7 1550.7H429.6V1557.5H422.7zM450.4 1550.7H457.3V1557.5H450.4zM111.2 1564.4H125V1571.3H111.2zM422.7 1564.4H429.6V1571.3H422.7zM125 1571.3H132V1578.2H125zM422.7 1571.3H429.6V1578.2H422.7zM111.2 1578.2H118.1V1585.1H111.2zM111.2 1585.1H118.1V1592H111.2zM125 1585.1H132V1592H125zM125 1592H132V1598.9H125zM436.5 1592H443.5V1598.9H436.5zM450.4 1592H457.3V1598.9H450.4zM111.2 1598.9H132V1605.8H111.2zM429.6 1598.9H436.5V1605.8H429.6zM436.5 1605.8H443.5V1612.7H436.5zM111.2 1612.7H118.1V1619.6H111.2zM138.9 1612.7H159.7V1619.6H138.9zM166.6 1612.7H173.5V1619.6H166.6zM208.1 1612.7H228.9V1619.6H208.1zM242.7 1612.7H270.4V1619.6H242.7zM284.3 1612.7H311.9V1619.6H284.3zM353.5 1612.7H360.4V1619.6H353.5zM388.1 1612.7H408.9V1619.6H388.1zM436.5 1612.7H443.5V1619.6H436.5zM111.2 1619.6H118.1V1626.5H111.2zM138.9 1619.6H145.8V1626.5H138.9zM173.5 1619.6H180.4V1626.5H173.5zM187.3 1619.6H201.2V1626.5H187.3zM208.1 1619.6H215V1626.5H208.1zM222 1619.6H228.9V1626.5H222zM256.6 1619.6H263.5V1626.5H256.6zM318.9 1619.6H325.8V1626.5H318.9zM353.5 1619.6H367.3V1626.5H353.5zM374.2 1619.6H381.2V1626.5H374.2zM388.1 1619.6H408.9V1626.5H388.1zM422.7 1619.6H429.6V1626.5H422.7zM118.1 1626.5H132V1633.4H118.1zM138.9 1626.5H145.8V1633.4H138.9zM152.7 1626.5H166.6V1633.4H152.7zM173.5 1626.5H180.4V1633.4H173.5zM187.3 1626.5H201.2V1633.4H187.3zM215 1626.5H228.9V1633.4H215zM249.6 1626.5H256.6V1633.4H249.6zM263.5 1626.5H270.4V1633.4H263.5zM277.3 1626.5H305V1633.4H277.3zM311.9 1626.5H318.9V1633.4H311.9zM332.7 1626.5H339.6V1633.4H332.7zM346.6 1626.5H367.3V1633.4H346.6zM381.2 1626.5H388.1V1633.4H381.2zM401.9 1626.5H408.9V1633.4H401.9z"/>
<path fill="#2626FF" d="M457.3 978.3H464.2V985.2H457.3zM457.3 992.1H464.2V999H457.3zM457.3 999H464.2V1005.9H457.3zM457.3 1005.9H464.2V1012.8H457.3zM457.3 1019.7H464.2V1026.6H457.3zM457.3 1033.5H464.2V1040.4H457.3zM457.3 1040.4H464.2V1047.3H457.3zM457.3 1054.2H464.2V1061H457.3zM457.3 1067.9H464.2V1074.8H457.3zM457.3 1123.1H464.2V1130H457.3zM457.3 1130H464.2V1136.9H457.3zM457.3 1136.9H464.2V1143.8H457.3zM457.3 1143.8H464.2V1150.7H457.3zM457.3 1157.6H464.2V1164.5H457.3zM457.3 1178.3H464.2V1185.2H457.3zM457.3 1192.1H464.2V1199H457.3zM457.3 1219.7H464.2V1226.5H457.3zM457.3 1233.4H464.2V1240.3H457.3zM457.3 1247.2H464.2V1254.1H457.3zM457.3 1261H464.2V1267.9H457.3zM415.8 1281.7H422.7V1288.6H415.8zM450.4 1281.7H457.3V1288.6H450.4zM478.1 1281.7H485V1288.6H478.1zM491.9 1281.7H498.8V1288.6H491.9zM505.8 1281.7H512.7V1288.6H505.8zM519.6 1281.7H526.5V1288.6H519.6zM547.3 1281.7H554.2V1288.6H547.3zM561.1 1281.7H568.1V1288.6H561.1zM581.9 1281.7H588.8V1288.6H581.9zM595.7 1281.7H623.4V1288.6H595.7zM671.9 1281.7H678.8V1288.6H671.9zM685.7 1281.7H692.7V1288.6H685.7zM699.6 1281.7H713.4V1288.6H699.6zM720.3 1281.7H727.3V1288.6H720.3zM734.2 1281.7H755V1288.6H734.2zM761.9 1281.7H768.8V1288.6H761.9zM166.6 1288.6H180.4V1295.5H166.6zM201.2 1288.6H208.1V1295.5H201.2zM256.6 1288.6H263.5V1295.5H256.6zM291.2 1288.6H298.1V1295.5H291.2zM325.8 1288.6H332.7V1295.5H325.8zM339.6 1288.6H360.4V1295.5H339.6zM374.2 1288.6H381.2V1295.5H374.2zM457.3 1288.6H464.2V1295.5H457.3zM118.1 1295.5H125V1302.4H118.1zM145.8 1295.5H152.7V1302.4H145.8zM332.7 1295.5H339.6V1302.4H332.7zM422.7 1295.5H429.6V1302.4H422.7zM152.7 1302.4H159.7V1309.3H152.7zM166.6 1302.4H173.5V1309.3H166.6zM194.3 1302.4H201.2V1309.3H194.3zM208.1 1302.4H215V1309.3H208.1zM222 1302.4H228.9V1309.3H222zM235.8 1302.4H242.7V1309.3H235.8zM263.5 1302.4H270.4V1309.3H263.5zM305 1302.4H318.9V1309.3H305zM360.4 1302.4H374.2V1309.3H360.4zM401.9 1302.4H408.9V1309.3H401.9zM125 1309.3H132V1316.2H125zM159.7 1309.3H166.6V1316.2H159.7zM173.5 1309.3H180.4V1316.2H173.5zM187.3 1309.3H194.3V1316.2H187.3zM201.2 1309.3H215V1316.2H201.2zM270.4 1309.3H277.3V1316.2H270.4zM298.1 1309.3H305V1316.2H298.1zM311.9 1309.3H318.9V1316.2H311.9zM332.7 1309.3H346.6V1316.2H332.7zM367.3 1309.3H381.2V1316.2H367.3zM388.1 1309.3H395V1316.2H388.1zM111.2 1316.2H118.1V1323.1H111.2zM125 1316.2H138.9V1323.1H125zM152.7 1316.2H166.6V1323.1H152.7zM180.4 1316.2H187.3V1323.1H180.4zM228.9 1316.2H242.7V1323.1H228.9zM256.6 1316.2H263.5V1323.1H256.6zM270.4 1316.2H277.3V1323.1H270.4zM284.3 1316.2H298.1V1323.1H284.3zM325.8 1316.2H332.7V1323.1H325.8zM339.6 1316.2H346.6V1323.1H339.6zM353.5 1316.2H360.4V1323.1H353.5zM381.2 1316.2H388.1V1323.1H381.2zM395 1316.2H401.9V1323.1H395zM408.9 1316.2H415.8V1323.1H408.9zM443.5 1316.2H450.4V1323.1H443.5zM457.3 1323.1H464.2V1330H457.3zM422.7 1330H429.6V1336.9H422.7zM436.5 1336.9H443.5V1343.8H436.5zM422.7 1343.8H429.6V1350.7H422.7zM429.6 1350.7H436.5V1357.6H429.6zM422.7 1357.6H429.6V1364.5H422.7zM429.6 1364.5H436.5V1371.4H429.6zM450.4 1364.5H457.3V1371.4H450.4zM429.6 1371.4H443.5V1378.3H429.6zM436.5 1378.3H443.5V1385.2H436.5zM422.7 1385.2H429.6V1392H422.7zM450.4 1385.2H457.3V1392H450.4zM450.4 1392H457.3V1398.9H450.4zM422.7 1398.9H436.5V1405.8H422.7zM450.4 1398.9H457.3V1405.8H450.4zM429.6 1405.8H436.5V1412.7H429.6zM443.5 1405.8H450.4V1412.7H443.5zM422.7 1412.7H429.6V1419.6H422.7zM450.4 1412.7H457.3V1419.6H450.4zM429.6 1426.5H443.5V1433.4H429.6zM436.5 1433.4H443.5V1440.3H436.5zM429.6 1440.3H436.5V1447.2H429.6zM422.7 1447.2H429.6V1454.1H422.7zM450.4 1447.2H457.3V1454.1H450.4zM422.7 1454.1H429.6V1461H422.7zM422.7 1467.9H436.5V1474.8H422.7zM436.5 1474.8H443.5V1481.7H436.5zM422.7 1481.7H429.6V1488.6H422.7zM450.4 1481.7H457.3V1488.6H450.4zM422.7 1502.4H429.6V1509.3H422.7zM436.5 1502.4H443.5V1509.3H436.5zM422.7 1509.3H429.6V1516.2H422.7zM436.5 1516.2H443.5V1523.1H436.5zM429.6 1530H443.5V1536.9H429.6zM429.6 1536.9H436.5V1543.8H429.6zM450.4 1536.9H457.3V1543.8H450.4zM436.5 1543.8H443.5V1550.7H436.5zM429.6 1550.7H436.5V1557.5H429.6zM422.7 1557.5H429.6V1564.4H422.7zM429.6 1564.4H436.5V1571.3H429.6zM450.4 1564.4H457.3V1571.3H450.4zM436.5 1571.3H443.5V1578.2H436.5zM450.4 1571.3H457.3V1578.2H450.4zM422.7 1578.2H436.5V1585.1H422.7zM422.7 1585.1H429.6V1592H422.7zM436.5 1585.1H443.5V1592H436.5zM443.5 1592H450.4V1598.9H443.5zM422.7 1605.8H429.6V1612.7H422.7zM422.7 1612.7H436.5V1619.6H422.7zM443.5 1619.6H450.4V1626.5H443.5zM422.7 1626.5H429.6V1633.4H422.7z"/>
<path fill="#3333FF" d="M457.3 985.2H464.2V992.1H457.3zM457.3 1012.8H464.2V1019.7H457.3zM457.3 1047.3H464.2V1054.2H457.3zM457.3 1061H464.2V1067.9H457.3zM457.3 1102.4H464.2V1109.3H457.3zM457.3 1109.3H464.2V1116.2H457.3zM457.3 1164.5H464.2V1171.4H457.3zM457.3 1171.4H464.2V1178.3H457.3zM457.3 1185.2H464.2V1192.1H457.3zM457.3 1199H464.2V1205.9H457.3zM457.3 1205.9H464.2V1212.8H457.3zM457.3 1212.8H464.2V1219.7H457.3zM457.3 1226.5H464.2V1233.4H457.3zM457.3 1254.1H464.2V1261H457.3zM457.3 1267.9H464.2V1274.8H457.3zM429.6 1281.7H436.5V1288.6H429.6zM443.5 1281.7H450.4V1288.6H443.5zM471.1 1281.7H478.1V1288.6H471.1zM485 1281.7H491.9V1288.6H485zM512.7 1281.7H519.6V1288.6H512.7zM526.5 1281.7H547.3V1288.6H526.5zM554.2 1281.7H561.1V1288.6H554.2zM568.1 1281.7H581.9V1288.6H568.1zM630.4 1281.7H644.2V1288.6H630.4zM678.8 1281.7H685.7V1288.6H678.8zM692.7 1281.7H699.6V1288.6H692.7zM727.3 1281.7H734.2V1288.6H727.3zM755 1281.7H761.9V1288.6H755zM118.1 1288.6H125V1295.5H118.1zM132 1288.6H145.8V1295.5H132zM208.1 1288.6H222V1295.5H208.1zM228.9 1288.6H235.8V1295.5H228.9zM242.7 1288.6H249.6V1295.5H242.7zM305 1288.6H311.9V1295.5H305zM429.6 1288.6H436.5V1295.5H429.6zM111.2 1295.5H118.1V1302.4H111.2zM132 1295.5H138.9V1302.4H132zM228.9 1295.5H235.8V1302.4H228.9zM325.8 1295.5H332.7V1302.4H325.8zM353.5 1295.5H360.4V1302.4H353.5zM401.9 1295.5H408.9V1302.4H401.9zM457.3 1295.5H464.2V1302.4H457.3zM138.9 1302.4H145.8V1309.3H138.9zM159.7 1302.4H166.6V1309.3H159.7zM249.6 1302.4H263.5V1309.3H249.6zM270.4 1302.4H277.3V1309.3H270.4zM298.1 1302.4H305V1309.3H298.1zM325.8 1302.4H332.7V1309.3H325.8zM374.2 1302.4H381.2V1309.3H374.2zM145.8 1309.3H152.7V1316.2H145.8zM222 1309.3H228.9V1316.2H222zM249.6 1309.3H256.6V1316.2H249.6zM263.5 1309.3H270.4V1316.2H263.5zM284.3 1309.3H298.1V1316.2H284.3zM325.8 1309.3H332.7V1316.2H325.8zM360.4 1309.3H367.3V1316.2H360.4zM450.4 1309.3H464.2V1316.2H450.4zM208.1 1316.2H215V1323.1H208.1zM249.6 1316.2H256.6V1323.1H249.6zM263.5 1316.2H270.4V1323.1H263.5zM298.1 1316.2H305V1323.1H298.1zM374.2 1316.2H381.2V1323.1H374.2zM443.5 1336.9H450.4V1343.8H443.5zM422.7 1364.5H429.6V1371.4H422.7zM436.5 1364.5H443.5V1371.4H436.5zM429.6 1378.3H436.5V1385.2H429.6zM443.5 1385.2H450.4V1392H443.5zM429.6 1412.7H450.4V1419.6H429.6zM450.4 1433.4H457.3V1440.3H450.4zM422.7 1440.3H429.6V1447.2H422.7zM436.5 1440.3H443.5V1447.2H436.5zM429.6 1447.2H436.5V1454.1H429.6zM429.6 1454.1H436.5V1461H429.6zM436.5 1467.9H443.5V1474.8H436.5zM422.7 1474.8H436.5V1481.7H422.7zM436.5 1481.7H443.5V1488.6H436.5zM422.7 1488.6H443.5V1495.5H422.7zM450.4 1495.5H457.3V1502.4H450.4zM443.5 1509.3H457.3V1516.2H443.5zM429.6 1516.2H436.5V1523.1H429.6zM450.4 1523.1H457.3V1530H450.4zM422.7 1530H429.6V1536.9H422.7zM450.4 1530H457.3V1536.9H450.4zM436.5 1578.2H443.5V1585.1H436.5zM429.6 1592H436.5V1598.9H429.6zM436.5 1598.9H443.5V1605.8H436.5zM450.4 1598.9H457.3V1605.8H450.4zM443.5 1605.8H457.3V1612.7H443.5zM450.4 1619.6H457.3V1626.5H450.4zM443.5 1626.5H450.4V1633.4H443.5z"/>
<path fill="#4040FF" d="M408.9 1281.7H415.8V1288.6H408.9zM422.7 1281.7H429.6V1288.6H422.7zM436.5 1281.7H443.5V1288.6H436.5zM152.7 1288.6H159.7V1295.5H152.7zM180.4 1288.6H187.3V1295.5H180.4zM235.8 1288.6H242.7V1295.5H235.8zM270.4 1288.6H277.3V1295.5H270.4zM332.7 1288.6H339.6V1295.5H332.7zM125 1295.5H132V1302.4H125zM152.7 1295.5H159.7V1302.4H152.7zM166.6 1295.5H173.5V1302.4H166.6zM187.3 1295.5H201.2V1302.4H187.3zM208.1 1295.5H228.9V1302.4H208.1zM235.8 1295.5H242.7V1302.4H235.8zM256.6 1295.5H263.5V1302.4H256.6zM270.4 1295.5H277.3V1302.4H270.4zM291.2 1295.5H305V1302.4H291.2zM311.9 1295.5H325.8V1302.4H311.9zM374.2 1295.5H381.2V1302.4H374.2zM395 1295.5H401.9V1302.4H395zM111.2 1302.4H118.1V1309.3H111.2zM173.5 1302.4H180.4V1309.3H173.5zM318.9 1302.4H325.8V1309.3H318.9zM332.7 1302.4H346.6V1309.3H332.7zM381.2 1302.4H395V1309.3H381.2zM457.3 1302.4H464.2V1309.3H457.3zM118.1 1309.3H125V1316.2H118.1zM132 1309.3H138.9V1316.2H132zM152.7 1309.3H159.7V1316.2H152.7zM166.6 1309.3H173.5V1316.2H166.6zM180.4 1309.3H187.3V1316.2H180.4zM228.9 1309.3H235.8V1316.2H228.9zM256.6 1309.3H263.5V1316.2H256.6zM277.3 1309.3H284.3V1316.2H277.3zM381.2 1309.3H388.1V1316.2H381.2zM395 1309.3H408.9V1316.2H395zM145.8 1316.2H152.7V1323.1H145.8zM194.3 1316.2H208.1V1323.1H194.3zM215 1316.2H228.9V1323.1H215zM242.7 1316.2H249.6V1323.1H242.7zM346.6 1316.2H353.5V1323.1H346.6zM360.4 1316.2H367.3V1323.1H360.4zM388.1 1316.2H395V1323.1H388.1zM401.9 1316.2H408.9V1323.1H401.9zM457.3 1316.2H464.2V1323.1H457.3zM457.3 1330H464.2V1336.9H457.3zM422.7 1336.9H436.5V1343.8H422.7zM429.6 1343.8H436.5V1350.7H429.6zM443.5 1343.8H450.4V1350.7H443.5zM422.7 1350.7H429.6V1357.6H422.7zM436.5 1350.7H443.5V1357.6H436.5zM429.6 1357.6H443.5V1364.5H429.6zM443.5 1364.5H450.4V1371.4H443.5zM422.7 1378.3H429.6V1385.2H422.7zM422.7 1392H429.6V1398.9H422.7zM436.5 1398.9H443.5V1405.8H436.5zM436.5 1405.8H443.5V1412.7H436.5zM450.4 1405.8H457.3V1412.7H450.4zM436.5 1419.6H450.4V1426.5H436.5zM443.5 1426.5H450.4V1433.4H443.5zM443.5 1440.3H450.4V1447.2H443.5zM443.5 1447.2H450.4V1454.1H443.5zM429.6 1461H436.5V1467.9H429.6zM443.5 1467.9H457.3V1474.8H443.5zM429.6 1481.7H436.5V1488.6H429.6zM443.5 1481.7H450.4V1488.6H443.5zM422.7 1495.5H429.6V1502.4H422.7zM443.5 1502.4H457.3V1509.3H443.5zM429.6 1509.3H436.5V1516.2H429.6zM422.7 1516.2H429.6V1523.1H422.7zM443.5 1516.2H450.4V1523.1H443.5zM422.7 1523.1H429.6V1530H422.7zM443.5 1523.1H450.4V1530H443.5zM443.5 1530H450.4V1536.9H443.5zM422.7 1536.9H429.6V1543.8H422.7zM422.7 1543.8H429.6V1550.7H422.7zM443.5 1543.8H450.4V1550.7H443.5zM443.5 1550.7H450.4V1557.5H443.5zM429.6 1557.5H436.5V1564.4H429.6zM450.4 1557.5H457.3V1564.4H450.4zM436.5 1564.4H443.5V1571.3H436.5zM429.6 1571.3H436.5V1578.2H429.6zM443.5 1571.3H450.4V1578.2H443.5zM429.6 1585.1H436.5V1592H429.6zM443.5 1585.1H457.3V1592H443.5zM422.7 1592H429.6V1598.9H422.7zM429.6 1605.8H436.5V1612.7H429.6zM443.5 1612.7H450.4V1619.6H443.5zM429.6 1619.6H436.5V1626.5H429.6zM436.5 1626.5H443.5V1633.4H436.5z"/>
<path fill="#4D4DFF" d="M111.2 1288.6H118.1V1295.5H111.2zM125 1288.6H132V1295.5H125zM159.7 1288.6H166.6V1295.5H159.7zM277.3 1288.6H284.3V1295.5H277.3zM360.4 1288.6H367.3V1295.5H360.4zM138.9 1295.5H145.8V1302.4H138.9zM173.5 1295.5H187.3V1302.4H173.5zM242.7 1295.5H249.6V1302.4H242.7zM263.5 1295.5H270.4V1302.4H263.5zM277.3 1295.5H284.3V1302.4H277.3zM339.6 1295.5H353.5V1302.4H339.6zM388.1 1295.5H395V1302.4H388.1zM443.5 1350.7H450.4V1357.6H443.5zM450.4 1378.3H457.3V1385.2H450.4zM443.5 1392H450.4V1398.9H443.5zM443.5 1398.9H450.4V1405.8H443.5zM443.5 1461H457.3V1467.9H443.5zM443.5 1474.8H450.4V1481.7H443.5zM443.5 1495.5H450.4V1502.4H443.5zM443.5 1557.5H450.4V1564.4H443.5zM443.5 1564.4H450.4V1571.3H443.5zM450.4 1578.2H457.3V1585.1H450.4zM443.5 1598.9H450.4V1605.8H443.5zM450.4 1612.7H457.3V1619.6H450.4zM450.4 1626.5H457.3V1633.4H450.4z"/>
<path fill="#5959FF" d="M159.7 1295.5H166.6V1302.4H159.7zM201.2 1295.5H208.1V1302.4H201.2zM249.6 1295.5H256.6V1302.4H249.6zM284.3 1295.5H291.2V1302.4H284.3zM305 1295.5H311.9V1302.4H305zM360.4 1295.5H374.2V1302.4H360.4zM381.2 1295.5H388.1V1302.4H381.2zM118.1 1330H125V1336.9H118.1zM291.2 1330H298.1V1336.9H291.2zM346.6 1330H353.5V1336.9H346.6zM443.5 1357.6H450.4V1364.5H443.5zM443.5 1371.4H450.4V1378.3H443.5zM443.5 1378.3H450.4V1385.2H443.5zM408.9 1392H415.8V1398.9H408.9zM443.5 1433.4H450.4V1440.3H443.5zM408.9 1447.2H415.8V1454.1H408.9zM443.5 1454.1H450.4V1461H443.5zM443.5 1488.6H450.4V1495.5H443.5zM443.5 1536.9H450.4V1543.8H443.5zM443.5 1578.2H450.4V1585.1H443.5zM408.9 1619.6H415.8V1626.5H408.9z"/>
<path fill="#6666FF" d="M408.9 1005.9H415.8V1012.8H408.9zM408.9 1012.8H415.8V1019.7H408.9zM408.9 1033.5H415.8V1040.4H408.9zM415.8 1067.9H422.7V1074.8H415.8zM408.9 1074.8H415.8V1081.7H408.9zM408.9 1081.7H415.8V1088.6H408.9zM415.8 1088.6H422.7V1095.5H415.8zM408.9 1102.4H422.7V1109.3H408.9zM415.8 1116.2H422.7V1123.1H415.8zM408.9 1130H415.8V1136.9H408.9zM408.9 1178.3H415.8V1185.2H408.9zM415.8 1185.2H422.7V1192.1H415.8zM408.9 1192.1H422.7V1199H408.9zM415.8 1199H422.7V1205.9H415.8zM408.9 1205.9H415.8V1212.8H408.9zM415.8 1247.2H422.7V1254.1H415.8zM408.9 1254.1H422.7V1261H408.9zM138.9 1323.1H145.8V1330H138.9zM173.5 1323.1H180.4V1330H173.5zM201.2 1323.1H222V1330H201.2zM263.5 1323.1H270.4V1330H263.5zM298.1 1323.1H305V1330H298.1zM318.9 1323.1H325.8V1330H318.9zM388.1 1323.1H395V1330H388.1zM485 1323.1H498.8V1330H485zM540.4 1323.1H561.1V1330H540.4zM623.4 1323.1H630.4V1330H623.4zM637.3 1323.1H644.2V1330H637.3zM651.1 1323.1H658V1330H651.1zM671.9 1323.1H678.8V1330H671.9zM125 1330H145.8V1336.9H125zM159.7 1330H166.6V1336.9H159.7zM208.1 1330H215V1336.9H208.1zM222 1330H228.9V1336.9H222zM256.6 1330H284.3V1336.9H256.6zM311.9 1330H325.8V1336.9H311.9zM332.7 1330H339.6V1336.9H332.7zM353.5 1330H360.4V1336.9H353.5zM367.3 1330H374.2V1336.9H367.3zM485 1330H491.9V1336.9H485zM533.4 1330H540.4V1336.9H533.4zM547.3 1330H554.2V1336.9H547.3zM561.1 1330H568.1V1336.9H561.1zM609.6 1330H616.5V1336.9H609.6zM637.3 1330H644.2V1336.9H637.3zM658 1330H671.9V1336.9H658zM706.5 1330H713.4V1336.9H706.5zM727.3 1330H741.1V1336.9H727.3zM415.8 1350.7H422.7V1357.6H415.8zM408.9 1371.4H415.8V1378.3H408.9zM408.9 1385.2H415.8V1392H408.9zM408.9 1405.8H415.8V1412.7H408.9zM408.9 1419.6H422.7V1426.5H408.9zM408.9 1426.5H415.8V1433.4H408.9zM415.8 1440.3H422.7V1447.2H415.8zM408.9 1461H415.8V1467.9H408.9zM408.9 1467.9H415.8V1474.8H408.9zM408.9 1474.8H422.7V1481.7H408.9zM408.9 1481.7H415.8V1488.6H408.9zM408.9 1516.2H415.8V1523.1H408.9zM415.8 1523.1H422.7V1530H415.8zM408.9 1530H422.7V1536.9H408.9zM415.8 1536.9H422.7V1543.8H415.8zM415.8 1564.4H422.7V1571.3H415.8zM408.9 1578.2H415.8V1585.1H408.9zM408.9 1598.9H422.7V1605.8H408.9zM408.9 1605.8H415.8V1612.7H408.9zM408.9 1612.7H415.8V1619.6H408.9z"/>
<path fill="#7373FF" d="M415.8 1019.7H422.7V1026.6H415.8zM415.8 1061H422.7V1067.9H415.8zM408.9 1095.5H415.8V1102.4H408.9zM408.9 1116.2H415.8V1123.1H408.9zM408.9 1123.1H415.8V1130H408.9zM415.8 1164.5H422.7V1171.4H415.8zM415.8 1171.4H422.7V1178.3H415.8zM408.9 1185.2H415.8V1192.1H408.9zM408.9 1219.7H415.8V1226.5H408.9zM415.8 1226.5H422.7V1233.4H415.8zM415.8 1261H422.7V1267.9H415.8zM332.7 1323.1H339.6V1330H332.7zM478.1 1323.1H485V1330H478.1zM512.7 1323.1H519.6V1330H512.7zM568.1 1323.1H581.9V1330H568.1zM678.8 1323.1H685.7V1330H678.8zM720.3 1323.1H727.3V1330H720.3zM111.2 1330H118.1V1336.9H111.2zM145.8 1330H152.7V1336.9H145.8zM187.3 1330H194.3V1336.9H187.3zM215 1330H222V1336.9H215zM242.7 1330H256.6V1336.9H242.7zM298.1 1330H311.9V1336.9H298.1zM325.8 1330H332.7V1336.9H325.8zM360.4 1330H367.3V1336.9H360.4zM381.2 1330H388.1V1336.9H381.2zM395 1330H401.9V1336.9H395zM519.6 1330H526.5V1336.9H519.6zM554.2 1330H561.1V1336.9H554.2zM616.5 1330H630.4V1336.9H616.5zM644.2 1330H651.1V1336.9H644.2zM408.9 1343.8H415.8V1350.7H408.9zM408.9 1357.6H415.8V1364.5H408.9zM408.9 1378.3H415.8V1385.2H408.9zM415.8 1405.8H422.7V1412.7H415.8zM408.9 1412.7H415.8V1419.6H408.9zM408.9 1433.4H415.8V1440.3H408.9zM408.9 1440.3H415.8V1447.2H408.9zM408.9 1488.6H415.8V1495.5H408.9zM408.9 1495.5H415.8V1502.4H408.9zM408.9 1523.1H415.8V1530H408.9zM408.9 1550.7H415.8V1557.5H408.9zM408.9 1592H415.8V1598.9H408.9zM408.9 1626.5H415.8V1633.4H408.9z"/>
<path fill="#8080FF" d="M415.8 978.3H422.7V985.2H415.8zM408.9 985.2H415.8V992.1H408.9zM408.9 992.1H422.7V999H408.9zM408.9 999H415.8V1005.9H408.9zM415.8 1005.9H422.7V1012.8H415.8zM450.4 1026.6H457.3V1033.5H450.4zM415.8 1033.5H422.7V1040.4H415.8zM415.8 1040.4H422.7V1047.3H415.8zM450.4 1040.4H457.3V1047.3H450.4zM408.9 1047.3H422.7V1054.2H408.9zM415.8 1054.2H422.7V1061H415.8zM408.9 1061H415.8V1067.9H408.9zM450.4 1061H457.3V1067.9H450.4zM408.9 1067.9H415.8V1074.8H408.9zM415.8 1074.8H422.7V1081.7H415.8zM415.8 1081.7H422.7V1088.6H415.8zM450.4 1081.7H457.3V1088.6H450.4zM450.4 1088.6H457.3V1095.5H450.4zM415.8 1123.1H422.7V1130H415.8zM415.8 1130H422.7V1136.9H415.8zM408.9 1143.8H422.7V1150.7H408.9zM408.9 1157.6H415.8V1164.5H408.9zM450.4 1157.6H457.3V1164.5H450.4zM408.9 1164.5H415.8V1171.4H408.9zM450.4 1164.5H457.3V1171.4H450.4zM450.4 1171.4H457.3V1178.3H450.4zM415.8 1178.3H422.7V1185.2H415.8zM450.4 1185.2H457.3V1192.1H450.4zM415.8 1205.9H422.7V1212.8H415.8zM415.8 1212.8H422.7V1219.7H415.8zM408.9 1226.5H415.8V1233.4H408.9zM408.9 1233.4H415.8V1240.3H408.9zM408.9 1247.2H415.8V1254.1H408.9zM415.8 1274.8H422.7V1281.7H415.8zM554.2 1288.6H561.1V1295.5H554.2zM568.1 1288.6H588.8V1295.5H568.1zM651.1 1288.6H665V1295.5H651.1zM678.8 1288.6H685.7V1295.5H678.8zM699.6 1288.6H706.5V1295.5H699.6zM713.4 1288.6H720.3V1295.5H713.4zM111.2 1323.1H132V1330H111.2zM152.7 1323.1H159.7V1330H152.7zM180.4 1323.1H187.3V1330H180.4zM222 1323.1H228.9V1330H222zM235.8 1323.1H242.7V1330H235.8zM249.6 1323.1H256.6V1330H249.6zM277.3 1323.1H291.2V1330H277.3zM325.8 1323.1H332.7V1330H325.8zM339.6 1323.1H360.4V1330H339.6zM367.3 1323.1H381.2V1330H367.3zM395 1323.1H401.9V1330H395zM464.2 1323.1H471.1V1330H464.2zM526.5 1323.1H540.4V1330H526.5zM561.1 1323.1H568.1V1330H561.1zM595.7 1323.1H602.7V1330H595.7zM609.6 1323.1H623.4V1330H609.6zM658 1323.1H671.9V1330H658zM685.7 1323.1H713.4V1330H685.7zM734.2 1323.1H741.1V1330H734.2zM748 1323.1H755V1330H748zM761.9 1323.1H768.8V1330H761.9zM173.5 1330H187.3V1336.9H173.5zM284.3 1330H291.2V1336.9H284.3zM339.6 1330H346.6V1336.9H339.6zM374.2 1330H381.2V1336.9H374.2zM388.1 1330H395V1336.9H388.1zM491.9 1330H498.8V1336.9H491.9zM505.8 1330H519.6V1336.9H505.8zM575 1330H588.8V1336.9H575zM595.7 1330H602.7V1336.9H595.7zM671.9 1330H685.7V1336.9H671.9zM692.7 1330H699.6V1336.9H692.7zM741.1 1330H761.9V1336.9H741.1zM415.8 1343.8H422.7V1350.7H415.8zM408.9 1350.7H415.8V1357.6H408.9zM408.9 1364.5H422.7V1371.4H408.9zM415.8 1371.4H422.7V1378.3H415.8zM415.8 1385.2H422.7V1392H415.8zM415.8 1392H422.7V1398.9H415.8zM408.9 1398.9H422.7V1405.8H408.9zM415.8 1412.7H422.7V1419.6H415.8zM408.9 1454.1H422.7V1461H408.9zM415.8 1461H422.7V1467.9H415.8zM415.8 1488.6H422.7V1495.5H415.8zM415.8 1502.4H422.7V1509.3H415.8zM415.8 1516.2H422.7V1523.1H415.8zM408.9 1557.5H422.7V1564.4H408.9zM408.9 1564.4H415.8V1571.3H408.9zM415.8 1585.1H422.7V1592H415.8zM415.8 1612.7H422.7V1619.6H415.8zM415.8 1619.6H422.7V1626.5H415.8zM415.8 1626.5H422.7V1633.4H415.8z"/>
<path fill="#8C8CFF" d="M443.5 978.3H450.4V985.2H443.5zM450.4 985.2H457.3V992.1H450.4zM450.4 992.1H457.3V999H450.4zM415.8 1012.8H422.7V1019.7H415.8zM408.9 1019.7H415.8V1026.6H408.9zM408.9 1026.6H415.8V1033.5H408.9zM443.5 1033.5H450.4V1040.4H443.5zM408.9 1040.4H415.8V1047.3H408.9zM450.4 1047.3H457.3V1054.2H450.4zM443.5 1081.7H450.4V1088.6H443.5zM415.8 1095.5H422.7V1102.4H415.8zM443.5 1102.4H457.3V1109.3H443.5zM450.4 1136.9H457.3V1143.8H450.4zM415.8 1157.6H422.7V1164.5H415.8zM408.9 1171.4H415.8V1178.3H408.9zM443.5 1185.2H450.4V1192.1H443.5zM450.4 1192.1H457.3V1199H450.4zM443.5 1212.8H450.4V1219.7H443.5zM415.8 1219.7H422.7V1226.5H415.8zM415.8 1240.3H422.7V1247.2H415.8zM450.4 1247.2H457.3V1254.1H450.4zM408.9 1261H415.8V1267.9H408.9zM491.9 1288.6H498.8V1295.5H491.9zM547.3 1288.6H554.2V1295.5H547.3zM602.7 1288.6H609.6V1295.5H602.7zM637.3 1288.6H644.2V1295.5H637.3zM692.7 1288.6H699.6V1295.5H692.7zM748 1288.6H761.9V1295.5H748zM526.5 1295.5H533.4V1302.4H526.5zM554.2 1295.5H561.1V1302.4H554.2zM637.3 1295.5H644.2V1302.4H637.3zM658 1295.5H665V1302.4H658zM706.5 1295.5H713.4V1302.4H706.5zM761.9 1295.5H768.8V1302.4H761.9zM145.8 1323.1H152.7V1330H145.8zM166.6 1323.1H173.5V1330H166.6zM194.3 1323.1H201.2V1330H194.3zM228.9 1323.1H235.8V1330H228.9zM242.7 1323.1H249.6V1330H242.7zM256.6 1323.1H263.5V1330H256.6zM291.2 1323.1H298.1V1330H291.2zM305 1323.1H318.9V1330H305zM360.4 1323.1H367.3V1330H360.4zM498.8 1323.1H505.8V1330H498.8zM519.6 1323.1H526.5V1330H519.6zM581.9 1323.1H588.8V1330H581.9zM644.2 1323.1H651.1V1330H644.2zM727.3 1323.1H734.2V1330H727.3zM152.7 1330H159.7V1336.9H152.7zM166.6 1330H173.5V1336.9H166.6zM194.3 1330H208.1V1336.9H194.3zM228.9 1330H242.7V1336.9H228.9zM401.9 1330H408.9V1336.9H401.9zM478.1 1330H485V1336.9H478.1zM568.1 1330H575V1336.9H568.1zM699.6 1330H706.5V1336.9H699.6zM713.4 1330H727.3V1336.9H713.4zM408.9 1336.9H415.8V1343.8H408.9zM415.8 1378.3H422.7V1385.2H415.8zM415.8 1426.5H422.7V1433.4H415.8zM415.8 1433.4H422.7V1440.3H415.8zM415.8 1447.2H422.7V1454.1H415.8zM415.8 1481.7H422.7V1488.6H415.8zM415.8 1495.5H422.7V1502.4H415.8zM408.9 1502.4H415.8V1509.3H408.9zM408.9 1509.3H422.7V1516.2H408.9zM408.9 1536.9H415.8V1543.8H408.9zM408.9 1543.8H422.7V1550.7H408.9zM408.9 1571.3H422.7V1578.2H408.9zM408.9 1585.1H415.8V1592H408.9zM415.8 1592H422.7V1598.9H415.8z"/>
<path fill="#9999FF" d="M408.9 978.3H415.8V985.2H408.9zM415.8 985.2H422.7V992.1H415.8zM415.8 999H422.7V1005.9H415.8zM450.4 999H457.3V1005.9H450.4zM415.8 1026.6H422.7V1033.5H415.8zM450.4 1033.5H457.3V1040.4H450.4zM408.9 1054.2H415.8V1061H408.9zM450.4 1054.2H457.3V1061H450.4zM450.4 1074.8H457.3V1081.7H450.4zM408.9 1088.6H415.8V1095.5H408.9zM443.5 1088.6H450.4V1095.5H443.5zM443.5 1095.5H450.4V1102.4H443.5zM408.9 1109.3H422.7V1116.2H408.9zM443.5 1123.1H450.4V1130H443.5zM408.9 1136.9H422.7V1143.8H408.9zM408.9 1150.7H422.7V1157.6H408.9zM450.4 1150.7H457.3V1157.6H450.4zM443.5 1178.3H450.4V1185.2H443.5zM408.9 1199H415.8V1205.9H408.9zM408.9 1212.8H415.8V1219.7H408.9zM415.8 1233.4H422.7V1240.3H415.8zM443.5 1233.4H457.3V1240.3H443.5zM408.9 1240.3H415.8V1247.2H408.9zM450.4 1240.3H457.3V1247.2H450.4zM450.4 1254.1H457.3V1261H450.4zM408.9 1267.9H422.7V1274.8H408.9zM408.9 1274.8H415.8V1281.7H408.9zM443.5 1274.8H457.3V1281.7H443.5zM464.2 1288.6H471.1V1295.5H464.2zM485 1288.6H491.9V1295.5H485zM498.8 1288.6H512.7V1295.5H498.8zM588.8 1288.6H595.7V1295.5H588.8zM665 1288.6H671.9V1295.5H665zM685.7 1288.6H692.7V1295.5H685.7zM706.5 1288.6H713.4V1295.5H706.5zM741.1 1288.6H748V1295.5H741.1zM464.2 1295.5H471.1V1302.4H464.2zM505.8 1295.5H512.7V1302.4H505.8zM561.1 1295.5H568.1V1302.4H561.1zM616.5 1295.5H623.4V1302.4H616.5zM644.2 1295.5H658V1302.4H644.2zM132 1323.1H138.9V1330H132zM159.7 1323.1H166.6V1330H159.7zM187.3 1323.1H194.3V1330H187.3zM270.4 1323.1H277.3V1330H270.4zM381.2 1323.1H388.1V1330H381.2zM401.9 1323.1H408.9V1330H401.9zM471.1 1323.1H478.1V1330H471.1zM505.8 1323.1H512.7V1330H505.8zM588.8 1323.1H595.7V1330H588.8zM602.7 1323.1H609.6V1330H602.7zM630.4 1323.1H637.3V1330H630.4zM713.4 1323.1H720.3V1330H713.4zM741.1 1323.1H748V1330H741.1zM755 1323.1H761.9V1330H755zM464.2 1330H478.1V1336.9H464.2zM498.8 1330H505.8V1336.9H498.8zM526.5 1330H533.4V1336.9H526.5zM540.4 1330H547.3V1336.9H540.4zM588.8 1330H595.7V1336.9H588.8zM602.7 1330H609.6V1336.9H602.7zM630.4 1330H637.3V1336.9H630.4zM651.1 1330H658V1336.9H651.1zM685.7 1330H692.7V1336.9H685.7zM761.9 1330H768.8V1336.9H761.9zM415.8 1336.9H422.7V1343.8H415.8zM415.8 1357.6H422.7V1364.5H415.8zM415.8 1467.9H422.7V1474.8H415.8zM415.8 1550.7H422.7V1557.5H415.8zM415.8 1578.2H422.7V1585.1H415.8zM415.8 1605.8H422.7V1612.7H415.8z"/>
<path fill="#A6A6FF" d="M450.4 978.3H457.3V985.2H450.4zM443.5 985.2H450.4V992.1H443.5zM443.5 1012.8H450.4V1019.7H443.5zM443.5 1019.7H450.4V1026.6H443.5zM443.5 1026.6H450.4V1033.5H443.5zM443.5 1040.4H450.4V1047.3H443.5zM443.5 1047.3H450.4V1054.2H443.5zM443.5 1061H450.4V1067.9H443.5zM450.4 1067.9H457.3V1074.8H450.4zM450.4 1109.3H457.3V1116.2H450.4zM443.5 1116.2H457.3V1123.1H443.5zM443.5 1130H450.4V1136.9H443.5zM443.5 1136.9H450.4V1143.8H443.5zM443.5 1150.7H450.4V1157.6H443.5zM443.5 1157.6H450.4V1164.5H443.5zM443.5 1164.5H450.4V1171.4H443.5zM443.5 1192.1H450.4V1199H443.5zM443.5 1199H457.3V1205.9H443.5zM443.5 1205.9H457.3V1212.8H443.5zM450.4 1212.8H457.3V1219.7H450.4zM450.4 1226.5H457.3V1233.4H450.4zM443.5 1240.3H450.4V1247.2H443.5zM443.5 1247.2H450.4V1254.1H443.5zM443.5 1261H450.4V1267.9H443.5zM512.7 1288.6H519.6V1295.5H512.7zM526.5 1288.6H547.3V1295.5H526.5zM623.4 1288.6H637.3V1295.5H623.4zM671.9 1288.6H678.8V1295.5H671.9zM761.9 1288.6H768.8V1295.5H761.9zM478.1 1295.5H485V1302.4H478.1zM491.9 1295.5H505.8V1302.4H491.9zM533.4 1295.5H554.2V1302.4H533.4zM575 1295.5H595.7V1302.4H575zM602.7 1295.5H616.5V1302.4H602.7zM623.4 1295.5H630.4V1302.4H623.4zM678.8 1295.5H685.7V1302.4H678.8zM692.7 1295.5H706.5V1302.4H692.7zM713.4 1295.5H734.2V1302.4H713.4zM755 1295.5H761.9V1302.4H755z"/>
<path fill="#B2B2FF" d="M429.6 992.1H436.5V999H429.6zM443.5 999H450.4V1005.9H443.5zM450.4 1005.9H457.3V1012.8H450.4zM429.6 1012.8H436.5V1019.7H429.6zM450.4 1012.8H457.3V1019.7H450.4zM450.4 1019.7H457.3V1026.6H450.4zM422.7 1040.4H429.6V1047.3H422.7zM429.6 1047.3H436.5V1054.2H429.6zM443.5 1054.2H450.4V1061H443.5zM422.7 1067.9H429.6V1074.8H422.7zM443.5 1074.8H450.4V1081.7H443.5zM436.5 1088.6H443.5V1095.5H436.5zM450.4 1095.5H457.3V1102.4H450.4zM443.5 1109.3H450.4V1116.2H443.5zM436.5 1116.2H443.5V1123.1H436.5zM429.6 1123.1H436.5V1130H429.6zM450.4 1123.1H457.3V1130H450.4zM450.4 1130H457.3V1136.9H450.4zM422.7 1136.9H436.5V1143.8H422.7zM450.4 1143.8H457.3V1150.7H450.4zM436.5 1150.7H443.5V1157.6H436.5zM422.7 1164.5H429.6V1171.4H422.7zM436.5 1171.4H450.4V1178.3H436.5zM436.5 1178.3H443.5V1185.2H436.5zM450.4 1178.3H457.3V1185.2H450.4zM436.5 1185.2H443.5V1192.1H436.5zM422.7 1205.9H429.6V1212.8H422.7zM450.4 1219.7H457.3V1226.5H450.4zM443.5 1226.5H450.4V1233.4H443.5zM429.6 1247.2H436.5V1254.1H429.6zM443.5 1254.1H450.4V1261H443.5zM429.6 1261H436.5V1267.9H429.6zM450.4 1261H457.3V1267.9H450.4zM450.4 1267.9H457.3V1274.8H450.4zM436.5 1274.8H443.5V1281.7H436.5zM111.2 1281.7H118.1V1288.6H111.2zM132 1281.7H138.9V1288.6H132zM152.7 1281.7H159.7V1288.6H152.7zM166.6 1281.7H173.5V1288.6H166.6zM194.3 1281.7H208.1V1288.6H194.3zM215 1281.7H222V1288.6H215zM235.8 1281.7H242.7V1288.6H235.8zM270.4 1281.7H284.3V1288.6H270.4zM305 1281.7H311.9V1288.6H305zM325.8 1281.7H332.7V1288.6H325.8zM346.6 1281.7H353.5V1288.6H346.6zM360.4 1281.7H367.3V1288.6H360.4zM388.1 1281.7H395V1288.6H388.1zM471.1 1288.6H485V1295.5H471.1zM519.6 1288.6H526.5V1295.5H519.6zM561.1 1288.6H568.1V1295.5H561.1zM595.7 1288.6H602.7V1295.5H595.7zM609.6 1288.6H623.4V1295.5H609.6zM644.2 1288.6H651.1V1295.5H644.2zM720.3 1288.6H741.1V1295.5H720.3zM485 1295.5H491.9V1302.4H485zM512.7 1295.5H519.6V1302.4H512.7zM568.1 1295.5H575V1302.4H568.1zM630.4 1295.5H637.3V1302.4H630.4zM665 1295.5H671.9V1302.4H665zM685.7 1295.5H692.7V1302.4H685.7zM741.1 1295.5H748V1302.4H741.1zM464.2 1302.4H471.1V1309.3H464.2zM554.2 1302.4H575V1309.3H554.2zM588.8 1302.4H595.7V1309.3H588.8zM623.4 1302.4H630.4V1309.3H623.4zM651.1 1302.4H658V1309.3H651.1zM478.1 1309.3H485V1316.2H478.1zM491.9 1309.3H498.8V1316.2H491.9zM602.7 1309.3H609.6V1316.2H602.7zM616.5 1309.3H623.4V1316.2H616.5zM692.7 1309.3H699.6V1316.2H692.7zM727.3 1309.3H734.2V1316.2H727.3zM748 1309.3H755V1316.2H748zM533.4 1316.2H540.4V1323.1H533.4zM575 1316.2H581.9V1323.1H575zM602.7 1316.2H609.6V1323.1H602.7zM671.9 1316.2H678.8V1323.1H671.9zM699.6 1316.2H706.5V1323.1H699.6zM457.3 1350.7H464.2V1357.6H457.3zM457.3 1378.3H464.2V1385.2H457.3zM457.3 1392H464.2V1398.9H457.3zM457.3 1412.7H464.2V1419.6H457.3zM457.3 1433.4H464.2V1440.3H457.3zM457.3 1461H464.2V1467.9H457.3zM457.3 1467.9H464.2V1474.8H457.3zM457.3 1502.4H464.2V1509.3H457.3zM457.3 1523.1H464.2V1530H457.3zM457.3 1536.9H464.2V1543.8H457.3zM457.3 1543.8H464.2V1550.7H457.3zM457.3 1571.3H464.2V1578.2H457.3zM457.3 1585.1H464.2V1592H457.3zM457.3 1605.8H464.2V1612.7H457.3zM457.3 1626.5H464.2V1633.4H457.3z"/>
<path fill="#BFBFFF" d="M443.5 992.1H450.4V999H443.5zM436.5 999H443.5V1005.9H436.5zM443.5 1005.9H450.4V1012.8H443.5zM429.6 1026.6H436.5V1033.5H429.6zM429.6 1033.5H436.5V1040.4H429.6zM436.5 1047.3H443.5V1054.2H436.5zM436.5 1061H443.5V1067.9H436.5zM443.5 1067.9H450.4V1074.8H443.5zM429.6 1088.6H436.5V1095.5H429.6zM436.5 1123.1H443.5V1130H436.5zM443.5 1143.8H450.4V1150.7H443.5zM422.7 1157.6H429.6V1164.5H422.7zM422.7 1171.4H429.6V1178.3H422.7zM422.7 1199H436.5V1205.9H422.7zM443.5 1219.7H450.4V1226.5H443.5zM422.7 1226.5H429.6V1233.4H422.7zM436.5 1247.2H443.5V1254.1H436.5zM443.5 1267.9H450.4V1274.8H443.5zM422.7 1274.8H429.6V1281.7H422.7zM118.1 1281.7H125V1288.6H118.1zM159.7 1281.7H166.6V1288.6H159.7zM173.5 1281.7H187.3V1288.6H173.5zM242.7 1281.7H249.6V1288.6H242.7zM291.2 1281.7H298.1V1288.6H291.2zM311.9 1281.7H318.9V1288.6H311.9zM339.6 1281.7H346.6V1288.6H339.6zM353.5 1281.7H360.4V1288.6H353.5zM381.2 1281.7H388.1V1288.6H381.2zM471.1 1295.5H478.1V1302.4H471.1zM519.6 1295.5H526.5V1302.4H519.6zM595.7 1295.5H602.7V1302.4H595.7zM671.9 1295.5H678.8V1302.4H671.9zM734.2 1295.5H741.1V1302.4H734.2zM748 1295.5H755V1302.4H748zM491.9 1302.4H498.8V1309.3H491.9zM616.5 1302.4H623.4V1309.3H616.5zM678.8 1302.4H685.7V1309.3H678.8zM692.7 1302.4H699.6V1309.3H692.7zM741.1 1302.4H748V1309.3H741.1zM540.4 1309.3H547.3V1316.2H540.4zM651.1 1309.3H658V1316.2H651.1zM706.5 1309.3H720.3V1316.2H706.5zM464.2 1316.2H471.1V1323.1H464.2zM512.7 1316.2H519.6V1323.1H512.7zM540.4 1316.2H547.3V1323.1H540.4zM568.1 1316.2H575V1323.1H568.1zM581.9 1316.2H588.8V1323.1H581.9zM457.3 1357.6H464.2V1364.5H457.3zM457.3 1385.2H464.2V1392H457.3zM457.3 1398.9H464.2V1405.8H457.3zM457.3 1426.5H464.2V1433.4H457.3zM457.3 1447.2H464.2V1454.1H457.3zM457.3 1495.5H464.2V1502.4H457.3zM457.3 1557.5H464.2V1564.4H457.3zM457.3 1564.4H464.2V1571.3H457.3zM457.3 1578.2H464.2V1585.1H457.3zM457.3 1619.6H464.2V1626.5H457.3z"/>
<path fill="#CCCCFF" d="M111.2 978.3H118.1V985.2H111.2zM422.7 978.3H436.5V985.2H422.7zM429.6 985.2H436.5V992.1H429.6zM422.7 992.1H429.6V999H422.7zM422.7 1005.9H429.6V1012.8H422.7zM422.7 1012.8H429.6V1019.7H422.7zM436.5 1012.8H443.5V1019.7H436.5zM422.7 1019.7H429.6V1026.6H422.7zM436.5 1019.7H443.5V1026.6H436.5zM422.7 1026.6H429.6V1033.5H422.7zM436.5 1026.6H443.5V1033.5H436.5zM436.5 1033.5H443.5V1040.4H436.5zM429.6 1040.4H436.5V1047.3H429.6zM422.7 1047.3H429.6V1054.2H422.7zM422.7 1054.2H429.6V1061H422.7zM436.5 1054.2H443.5V1061H436.5zM111.2 1061H118.1V1067.9H111.2zM422.7 1061H436.5V1067.9H422.7zM429.6 1067.9H436.5V1074.8H429.6zM111.2 1074.8H118.1V1081.7H111.2zM422.7 1074.8H429.6V1081.7H422.7zM111.2 1081.7H118.1V1088.6H111.2zM429.6 1081.7H436.5V1088.6H429.6zM429.6 1095.5H436.5V1102.4H429.6zM422.7 1102.4H436.5V1109.3H422.7zM422.7 1109.3H429.6V1116.2H422.7zM436.5 1109.3H443.5V1116.2H436.5zM422.7 1116.2H429.6V1123.1H422.7zM422.7 1130H443.5V1136.9H422.7zM436.5 1136.9H443.5V1143.8H436.5zM422.7 1150.7H429.6V1157.6H422.7zM429.6 1157.6H443.5V1164.5H429.6zM436.5 1164.5H443.5V1171.4H436.5zM429.6 1171.4H436.5V1178.3H429.6zM429.6 1178.3H436.5V1185.2H429.6zM422.7 1185.2H436.5V1192.1H422.7zM422.7 1192.1H429.6V1199H422.7zM436.5 1192.1H443.5V1199H436.5zM436.5 1199H443.5V1205.9H436.5zM429.6 1205.9H443.5V1212.8H429.6zM429.6 1212.8H443.5V1219.7H429.6zM436.5 1219.7H443.5V1226.5H436.5zM429.6 1226.5H443.5V1233.4H429.6zM429.6 1233.4H436.5V1240.3H429.6zM429.6 1240.3H436.5V1247.2H429.6zM422.7 1254.1H429.6V1261H422.7zM422.7 1261H429.6V1267.9H422.7zM436.5 1261H443.5V1267.9H436.5zM422.7 1267.9H429.6V1274.8H422.7zM436.5 1267.9H443.5V1274.8H436.5zM125 1281.7H132V1288.6H125zM138.9 1281.7H152.7V1288.6H138.9zM187.3 1281.7H194.3V1288.6H187.3zM208.1 1281.7H215V1288.6H208.1zM222 1281.7H235.8V1288.6H222zM249.6 1281.7H270.4V1288.6H249.6zM284.3 1281.7H291.2V1288.6H284.3zM298.1 1281.7H305V1288.6H298.1zM318.9 1281.7H325.8V1288.6H318.9zM332.7 1281.7H339.6V1288.6H332.7zM367.3 1281.7H381.2V1288.6H367.3zM395 1281.7H408.9V1288.6H395zM471.1 1302.4H485V1309.3H471.1zM512.7 1302.4H554.2V1309.3H512.7zM575 1302.4H588.8V1309.3H575zM602.7 1302.4H616.5V1309.3H602.7zM630.4 1302.4H637.3V1309.3H630.4zM685.7 1302.4H692.7V1309.3H685.7zM706.5 1302.4H734.2V1309.3H706.5zM498.8 1309.3H519.6V1316.2H498.8zM526.5 1309.3H540.4V1316.2H526.5zM554.2 1309.3H575V1316.2H554.2zM581.9 1309.3H588.8V1316.2H581.9zM609.6 1309.3H616.5V1316.2H609.6zM637.3 1309.3H651.1V1316.2H637.3zM658 1309.3H665V1316.2H658zM671.9 1309.3H685.7V1316.2H671.9zM699.6 1309.3H706.5V1316.2H699.6zM755 1309.3H768.8V1316.2H755zM471.1 1316.2H491.9V1323.1H471.1zM547.3 1316.2H561.1V1323.1H547.3zM588.8 1316.2H595.7V1323.1H588.8zM609.6 1316.2H616.5V1323.1H609.6zM623.4 1316.2H644.2V1323.1H623.4zM665 1316.2H671.9V1323.1H665zM678.8 1316.2H699.6V1323.1H678.8zM713.4 1316.2H741.1V1323.1H713.4zM748 1316.2H755V1323.1H748zM761.9 1316.2H768.8V1323.1H761.9zM457.3 1336.9H464.2V1343.8H457.3zM457.3 1343.8H464.2V1350.7H457.3zM457.3 1364.5H464.2V1371.4H457.3zM457.3 1371.4H464.2V1378.3H457.3zM457.3 1405.8H464.2V1412.7H457.3zM457.3 1419.6H464.2V1426.5H457.3zM457.3 1440.3H464.2V1447.2H457.3zM457.3 1454.1H464.2V1461H457.3zM457.3 1474.8H464.2V1481.7H457.3zM457.3 1481.7H464.2V1488.6H457.3zM457.3 1488.6H464.2V1495.5H457.3zM457.3 1509.3H464.2V1516.2H457.3zM457.3 1516.2H464.2V1523.1H457.3zM457.3 1530H464.2V1536.9H457.3zM457.3 1550.7H464.2V1557.5H457.3zM457.3 1592H464.2V1598.9H457.3zM457.3 1598.9H464.2V1605.8H457.3zM457.3 1612.7H464.2V1619.6H457.3zM658 1626.5H671.9V1633.4H658zM678.8 1626.5H685.7V1633.4H678.8zM761.9 1626.5H768.8V1633.4H761.9z"/>
<path fill="#D9D9FF" d="M436.5 985.2H443.5V992.1H436.5zM436.5 992.1H443.5V999H436.5zM436.5 1005.9H443.5V1012.8H436.5zM429.6 1019.7H436.5V1026.6H429.6zM422.7 1033.5H429.6V1040.4H422.7zM436.5 1040.4H443.5V1047.3H436.5zM436.5 1067.9H443.5V1074.8H436.5zM429.6 1074.8H436.5V1081.7H429.6zM436.5 1081.7H443.5V1088.6H436.5zM422.7 1088.6H429.6V1095.5H422.7zM436.5 1095.5H443.5V1102.4H436.5zM429.6 1109.3H436.5V1116.2H429.6zM429.6 1116.2H436.5V1123.1H429.6zM422.7 1123.1H429.6V1130H422.7zM436.5 1143.8H443.5V1150.7H436.5zM422.7 1178.3H429.6V1185.2H422.7zM422.7 1212.8H429.6V1219.7H422.7zM436.5 1233.4H443.5V1240.3H436.5zM422.7 1240.3H429.6V1247.2H422.7zM436.5 1240.3H443.5V1247.2H436.5zM422.7 1247.2H429.6V1254.1H422.7zM429.6 1267.9H436.5V1274.8H429.6zM498.8 1302.4H512.7V1309.3H498.8zM595.7 1302.4H602.7V1309.3H595.7zM644.2 1302.4H651.1V1309.3H644.2zM658 1302.4H665V1309.3H658zM671.9 1302.4H678.8V1309.3H671.9zM699.6 1302.4H706.5V1309.3H699.6zM734.2 1302.4H741.1V1309.3H734.2zM748 1302.4H761.9V1309.3H748zM471.1 1309.3H478.1V1316.2H471.1zM623.4 1309.3H637.3V1316.2H623.4zM665 1309.3H671.9V1316.2H665zM720.3 1309.3H727.3V1316.2H720.3zM491.9 1316.2H505.8V1323.1H491.9zM526.5 1316.2H533.4V1323.1H526.5zM561.1 1316.2H568.1V1323.1H561.1zM616.5 1316.2H623.4V1323.1H616.5zM651.1 1316.2H658V1323.1H651.1zM706.5 1316.2H713.4V1323.1H706.5z"/>
<path fill="#E6E6FF" d="M132 978.3H145.8V985.2H132zM152.7 978.3H159.7V985.2H152.7zM166.6 978.3H173.5V985.2H166.6zM235.8 978.3H242.7V985.2H235.8zM249.6 978.3H256.6V985.2H249.6zM263.5 978.3H284.3V985.2H263.5zM311.9 978.3H318.9V985.2H311.9zM332.7 978.3H346.6V985.2H332.7zM353.5 978.3H367.3V985.2H353.5zM374.2 978.3H381.2V985.2H374.2zM388.1 978.3H408.9V985.2H388.1zM436.5 978.3H443.5V985.2H436.5zM111.2 985.2H118.1V992.1H111.2zM138.9 985.2H145.8V992.1H138.9zM353.5 985.2H360.4V992.1H353.5zM401.9 985.2H408.9V992.1H401.9zM422.7 985.2H429.6V992.1H422.7zM111.2 992.1H118.1V999H111.2zM235.8 992.1H242.7V999H235.8zM270.4 992.1H277.3V999H270.4zM353.5 992.1H367.3V999H353.5zM395 992.1H408.9V999H395zM111.2 999H118.1V1005.9H111.2zM422.7 999H436.5V1005.9H422.7zM111.2 1005.9H118.1V1012.8H111.2zM132 1005.9H145.8V1012.8H132zM166.6 1005.9H173.5V1012.8H166.6zM235.8 1005.9H242.7V1012.8H235.8zM270.4 1005.9H277.3V1012.8H270.4zM332.7 1005.9H339.6V1012.8H332.7zM353.5 1005.9H367.3V1012.8H353.5zM401.9 1005.9H408.9V1012.8H401.9zM429.6 1005.9H436.5V1012.8H429.6zM111.2 1012.8H118.1V1019.7H111.2zM166.6 1012.8H173.5V1019.7H166.6zM235.8 1012.8H242.7V1019.7H235.8zM249.6 1012.8H256.6V1019.7H249.6zM263.5 1012.8H284.3V1019.7H263.5zM311.9 1012.8H325.8V1019.7H311.9zM332.7 1012.8H346.6V1019.7H332.7zM353.5 1012.8H367.3V1019.7H353.5zM374.2 1012.8H381.2V1019.7H374.2zM388.1 1012.8H408.9V1019.7H388.1zM111.2 1019.7H118.1V1026.6H111.2zM111.2 1026.6H118.1V1033.5H111.2zM111.2 1033.5H118.1V1040.4H111.2zM132 1033.5H145.8V1040.4H132zM166.6 1033.5H173.5V1040.4H166.6zM235.8 1033.5H242.7V1040.4H235.8zM270.4 1033.5H277.3V1040.4H270.4zM332.7 1033.5H339.6V1040.4H332.7zM353.5 1033.5H367.3V1040.4H353.5zM401.9 1033.5H408.9V1040.4H401.9zM111.2 1040.4H118.1V1047.3H111.2zM132 1040.4H145.8V1047.3H132zM166.6 1040.4H173.5V1047.3H166.6zM235.8 1040.4H242.7V1047.3H235.8zM249.6 1040.4H256.6V1047.3H249.6zM270.4 1040.4H284.3V1047.3H270.4zM311.9 1040.4H318.9V1047.3H311.9zM332.7 1040.4H346.6V1047.3H332.7zM353.5 1040.4H367.3V1047.3H353.5zM374.2 1040.4H381.2V1047.3H374.2zM388.1 1040.4H408.9V1047.3H388.1zM111.2 1047.3H118.1V1054.2H111.2zM138.9 1047.3H145.8V1054.2H138.9zM235.8 1047.3H242.7V1054.2H235.8zM270.4 1047.3H277.3V1054.2H270.4zM332.7 1047.3H339.6V1054.2H332.7zM360.4 1047.3H367.3V1054.2H360.4zM401.9 1047.3H408.9V1054.2H401.9zM111.2 1054.2H118.1V1061H111.2zM429.6 1054.2H436.5V1061H429.6zM138.9 1061H145.8V1067.9H138.9zM111.2 1067.9H118.1V1074.8H111.2zM138.9 1067.9H145.8V1074.8H138.9zM436.5 1074.8H443.5V1081.7H436.5zM125 1081.7H145.8V1088.6H125zM152.7 1081.7H159.7V1088.6H152.7zM166.6 1081.7H173.5V1088.6H166.6zM187.3 1081.7H194.3V1088.6H187.3zM201.2 1081.7H215V1088.6H201.2zM235.8 1081.7H249.6V1088.6H235.8zM263.5 1081.7H284.3V1088.6H263.5zM298.1 1081.7H325.8V1088.6H298.1zM332.7 1081.7H408.9V1088.6H332.7zM422.7 1081.7H429.6V1088.6H422.7zM111.2 1088.6H132V1095.5H111.2zM125 1095.5H132V1102.4H125zM422.7 1095.5H429.6V1102.4H422.7zM111.2 1102.4H125V1109.3H111.2zM436.5 1102.4H443.5V1109.3H436.5zM111.2 1109.3H118.1V1116.2H111.2zM111.2 1130H118.1V1136.9H111.2zM111.2 1136.9H132V1143.8H111.2zM111.2 1143.8H132V1150.7H111.2zM422.7 1143.8H436.5V1150.7H422.7zM111.2 1150.7H125V1157.6H111.2zM429.6 1150.7H436.5V1157.6H429.6zM111.2 1157.6H118.1V1164.5H111.2zM111.2 1164.5H118.1V1171.4H111.2zM429.6 1164.5H436.5V1171.4H429.6zM111.2 1171.4H118.1V1178.3H111.2zM111.2 1178.3H118.1V1185.2H111.2zM111.2 1185.2H118.1V1192.1H111.2zM111.2 1192.1H125V1199H111.2zM429.6 1192.1H436.5V1199H429.6zM111.2 1199H118.1V1205.9H111.2zM111.2 1212.8H125V1219.7H111.2zM111.2 1219.7H132V1226.5H111.2zM422.7 1219.7H436.5V1226.5H422.7zM111.2 1226.5H125V1233.4H111.2zM111.2 1233.4H132V1240.3H111.2zM422.7 1233.4H429.6V1240.3H422.7zM111.2 1240.3H118.1V1247.2H111.2zM111.2 1247.2H132V1254.1H111.2zM111.2 1254.1H132V1261H111.2zM429.6 1254.1H443.5V1261H429.6zM111.2 1267.9H118.1V1274.8H111.2zM111.2 1274.8H118.1V1281.7H111.2zM429.6 1274.8H436.5V1281.7H429.6zM485 1302.4H491.9V1309.3H485zM637.3 1302.4H644.2V1309.3H637.3zM665 1302.4H671.9V1309.3H665zM761.9 1302.4H768.8V1309.3H761.9zM464.2 1309.3H471.1V1316.2H464.2zM485 1309.3H491.9V1316.2H485zM519.6 1309.3H526.5V1316.2H519.6zM547.3 1309.3H554.2V1316.2H547.3zM575 1309.3H581.9V1316.2H575zM588.8 1309.3H602.7V1316.2H588.8zM685.7 1309.3H692.7V1316.2H685.7zM734.2 1309.3H748V1316.2H734.2zM505.8 1316.2H512.7V1323.1H505.8zM519.6 1316.2H526.5V1323.1H519.6zM595.7 1316.2H602.7V1323.1H595.7zM644.2 1316.2H651.1V1323.1H644.2zM658 1316.2H665V1323.1H658zM741.1 1316.2H748V1323.1H741.1zM755 1316.2H761.9V1323.1H755zM658 1336.9H665V1343.8H658zM692.7 1336.9H713.4V1343.8H692.7zM727.3 1336.9H741.1V1343.8H727.3zM748 1336.9H768.8V1343.8H748zM658 1343.8H665V1350.7H658zM699.6 1343.8H706.5V1350.7H699.6zM727.3 1343.8H734.2V1350.7H727.3zM748 1343.8H755V1350.7H748zM761.9 1343.8H768.8V1350.7H761.9zM658 1350.7H665V1357.6H658zM699.6 1350.7H706.5V1357.6H699.6zM727.3 1350.7H734.2V1357.6H727.3zM761.9 1350.7H768.8V1357.6H761.9zM658 1357.6H665V1364.5H658zM658 1364.5H665V1371.4H658zM699.6 1364.5H706.5V1371.4H699.6zM727.3 1364.5H734.2V1371.4H727.3zM761.9 1364.5H768.8V1371.4H761.9zM658 1371.4H665V1378.3H658zM658 1378.3H665V1385.2H658zM692.7 1378.3H713.4V1385.2H692.7zM727.3 1378.3H741.1V1385.2H727.3zM748 1378.3H755V1385.2H748zM761.9 1378.3H768.8V1385.2H761.9zM658 1385.2H665V1392H658zM699.6 1385.2H713.4V1392H699.6zM727.3 1385.2H741.1V1392H727.3zM748 1385.2H768.8V1392H748zM658 1392H665V1398.9H658zM658 1398.9H665V1405.8H658zM699.6 1398.9H706.5V1405.8H699.6zM727.3 1398.9H734.2V1405.8H727.3zM761.9 1398.9H768.8V1405.8H761.9zM658 1405.8H665V1412.7H658zM692.7 1405.8H713.4V1412.7H692.7zM727.3 1405.8H741.1V1412.7H727.3zM761.9 1405.8H768.8V1412.7H761.9zM658 1419.6H665V1426.5H658zM727.3 1419.6H734.2V1426.5H727.3zM658 1426.5H665V1433.4H658zM699.6 1426.5H706.5V1433.4H699.6zM727.3 1426.5H734.2V1433.4H727.3zM761.9 1426.5H768.8V1433.4H761.9zM658 1433.4H665V1440.3H658zM658 1440.3H665V1447.2H658zM658 1461H665V1467.9H658zM699.6 1461H706.5V1467.9H699.6zM727.3 1461H734.2V1467.9H727.3zM761.9 1461H768.8V1467.9H761.9zM658 1467.9H665V1474.8H658zM692.7 1467.9H713.4V1474.8H692.7zM727.3 1467.9H741.1V1474.8H727.3zM748 1467.9H755V1474.8H748zM761.9 1467.9H768.8V1474.8H761.9zM658 1474.8H665V1481.7H658zM727.3 1474.8H734.2V1481.7H727.3zM761.9 1474.8H768.8V1481.7H761.9zM699.6 1488.6H706.5V1495.5H699.6zM727.3 1488.6H734.2V1495.5H727.3zM761.9 1488.6H768.8V1495.5H761.9zM658 1495.5H665V1502.4H658zM658 1502.4H665V1509.3H658zM692.7 1502.4H713.4V1509.3H692.7zM727.3 1502.4H741.1V1509.3H727.3zM748 1502.4H755V1509.3H748zM761.9 1502.4H768.8V1509.3H761.9zM658 1530H665V1536.9H658zM658 1536.9H665V1543.8H658zM658 1550.7H665V1557.5H658zM658 1571.3H665V1578.2H658zM699.6 1571.3H713.4V1578.2H699.6zM727.3 1571.3H741.1V1578.2H727.3zM761.9 1571.3H768.8V1578.2H761.9zM658 1585.1H665V1592H658zM761.9 1585.1H768.8V1592H761.9zM658 1598.9H665V1605.8H658zM671.9 1598.9H685.7V1605.8H671.9zM692.7 1598.9H713.4V1605.8H692.7zM734.2 1598.9H741.1V1605.8H734.2zM755 1598.9H768.8V1605.8H755zM658 1605.8H665V1612.7H658zM699.6 1605.8H713.4V1612.7H699.6zM734.2 1605.8H741.1V1612.7H734.2zM761.9 1605.8H768.8V1612.7H761.9zM485 1612.7H498.8V1619.6H485zM505.8 1612.7H512.7V1619.6H505.8zM519.6 1612.7H526.5V1619.6H519.6zM595.7 1612.7H609.6V1619.6H595.7zM644.2 1612.7H665V1619.6H644.2zM485 1619.6H498.8V1626.5H485zM505.8 1619.6H533.4V1626.5H505.8zM547.3 1619.6H554.2V1626.5H547.3zM588.8 1619.6H609.6V1626.5H588.8zM637.3 1619.6H644.2V1626.5H637.3zM651.1 1619.6H658V1626.5H651.1zM464.2 1626.5H478.1V1633.4H464.2zM485 1626.5H533.4V1633.4H485zM540.4 1626.5H616.5V1633.4H540.4zM630.4 1626.5H644.2V1633.4H630.4zM651.1 1626.5H658V1633.4H651.1zM671.9 1626.5H678.8V1633.4H671.9zM685.7 1626.5H761.9V1633.4H685.7z"/>
</g>
<rect x="780.8" y="945.5" width="94" height="93.9" fill="#fff" stroke="#000" stroke-width="1.7"/>
<rect x="803.6" y="975.2" width="16.2" height="13.1" fill="#A6CEE3" stroke="#000" stroke-width="1.7"/>
<rect x="803.6" y="1001.1" width="16.2" height="13.1" fill="#1F78B4" stroke="#000" stroke-width="1.7"/>
<text x="839.8" y="990.8" font-size="26">1</text>
<text x="839.8" y="1017" font-size="26">2</text>
</g>
<g id="panelD">
<text x="937.7" y="879.4" font-size="42" font-weight="bold">D</text>
<rect x="1046.2" y="945.6" width="737.8" height="652.1" fill="none" stroke="#333333" stroke-width="1.5"/>
<line x1="1039.8" y1="984.4" x2="1046.2" y2="984.4" stroke="#333333" stroke-width="1.5"/>
<text x="1035" y="992.7" font-size="32" text-anchor="end" fill="#4D4D4D">1.0</text>
<line x1="1039.8" y1="1133.5" x2="1046.2" y2="1133.5" stroke="#333333" stroke-width="1.5"/>
<text x="1035" y="1141.8" font-size="32" text-anchor="end" fill="#4D4D4D">0.5</text>
<line x1="1039.8" y1="1285.1" x2="1046.2" y2="1285.1" stroke="#333333" stroke-width="1.5"/>
<text x="1035" y="1293.4" font-size="32" text-anchor="end" fill="#4D4D4D">0.0</text>
<line x1="1039.8" y1="1441.7" x2="1046.2" y2="1441.7" stroke="#333333" stroke-width="1.5"/>
<text x="1035" y="1450" font-size="32" text-anchor="end" fill="#4D4D4D">−0.5</text>
<line x1="1039.8" y1="1597.2" x2="1046.2" y2="1597.2" stroke="#333333" stroke-width="1.5"/>
<text x="1035" y="1605.5" font-size="32" text-anchor="end" fill="#4D4D4D">−1.0</text>
<line x1="1189.5" y1="1597.7" x2="1189.5" y2="1604" stroke="#333333" stroke-width="1.5"/>
<text x="1189.5" y="1633.4" font-size="32" text-anchor="middle" fill="#4D4D4D">−1</text>
<line x1="1390.2" y1="1597.7" x2="1390.2" y2="1604" stroke="#333333" stroke-width="1.5"/>
<text x="1390.2" y="1633.4" font-size="32" text-anchor="middle" fill="#4D4D4D">0</text>
<line x1="1594" y1="1597.7" x2="1594" y2="1604" stroke="#333333" stroke-width="1.5"/>
<text x="1594" y="1633.4" font-size="32" text-anchor="middle" fill="#4D4D4D">1</text>
<text x="1389.3" y="1664.6" font-size="32" text-anchor="middle">PC1</text>
<text transform="translate(966,1281) rotate(-90)" font-size="32" text-anchor="middle">PC2</text>
<path d="M1367 1283.2L1366.8 1286.8L1366.2 1290.4L1365.2 1294L1363.9 1297.7L1362.1 1301.4L1359.9 1305.1L1357.4 1308.9L1354.5 1312.6L1351.3 1316.3L1347.7 1320L1343.8 1323.7L1339.5 1327.3L1334.9 1330.8L1330 1334.3L1324.8 1337.7L1319.3 1341.1L1313.6 1344.3L1307.6 1347.5L1301.4 1350.5L1295 1353.4L1288.3 1356.2L1281.5 1358.8L1274.5 1361.3L1267.4 1363.7L1260.2 1365.9L1252.9 1367.9L1245.4 1369.8L1238 1371.5L1230.4 1373L1222.9 1374.4L1215.4 1375.6L1207.8 1376.5L1200.4 1377.3L1192.9 1377.9L1185.6 1378.3L1178.4 1378.5L1171.3 1378.5L1164.3 1378.3L1157.5 1378L1150.9 1377.4L1144.4 1376.6L1138.2 1375.7L1132.2 1374.5L1126.5 1373.2L1121 1371.7L1115.8 1370L1110.9 1368.1L1106.3 1366.1L1102 1363.9L1098.1 1361.6L1094.5 1359.1L1091.3 1356.5L1088.4 1353.7L1085.9 1350.8L1083.7 1347.8L1081.9 1344.6L1080.6 1341.4L1079.6 1338.1L1079 1334.7L1078.8 1331.2L1079 1327.6L1079.6 1324L1080.6 1320.4L1081.9 1316.7L1083.7 1313L1085.9 1309.3L1088.4 1305.5L1091.3 1301.8L1094.5 1298.1L1098.1 1294.4L1102 1290.7L1106.3 1287.1L1110.9 1283.6L1115.8 1280.1L1121 1276.7L1126.5 1273.3L1132.2 1270.1L1138.2 1266.9L1144.4 1263.9L1150.8 1261L1157.5 1258.2L1164.3 1255.6L1171.3 1253.1L1178.4 1250.7L1185.6 1248.5L1192.9 1246.5L1200.4 1244.6L1207.8 1242.9L1215.4 1241.4L1222.9 1240L1230.4 1238.8L1238 1237.9L1245.4 1237.1L1252.9 1236.5L1260.2 1236.1L1267.4 1235.9L1274.5 1235.9L1281.5 1236.1L1288.3 1236.4L1295 1237L1301.4 1237.8L1307.6 1238.7L1313.6 1239.9L1319.3 1241.2L1324.8 1242.7L1330 1244.4L1334.9 1246.3L1339.5 1248.3L1343.8 1250.5L1347.7 1252.8L1351.3 1255.3L1354.5 1257.9L1357.4 1260.7L1359.9 1263.6L1362.1 1266.6L1363.9 1269.8L1365.2 1273L1366.2 1276.3L1366.8 1279.7z" fill="none" stroke="#0066FF" stroke-width="1.6"/>
<path d="M1649.2 1139.7L1649 1151.2L1648.5 1163L1647.6 1175L1646.4 1187.4L1644.8 1200L1642.9 1212.8L1640.6 1225.7L1638.1 1238.8L1635.2 1252L1631.9 1265.3L1628.4 1278.5L1624.6 1291.8L1620.5 1305L1616.1 1318.1L1611.5 1331.1L1606.6 1344L1601.5 1356.6L1596.1 1369L1590.5 1381.2L1584.8 1393.1L1578.9 1404.6L1572.8 1415.8L1566.6 1426.6L1560.2 1436.9L1553.7 1446.9L1547.2 1456.3L1540.5 1465.3L1533.9 1473.7L1527.1 1481.6L1520.4 1488.9L1513.7 1495.6L1506.9 1501.7L1500.3 1507.2L1493.6 1512L1487.1 1516.2L1480.6 1519.8L1474.2 1522.6L1468 1524.8L1461.9 1526.3L1456 1527.1L1450.3 1527.2L1444.7 1526.6L1439.3 1525.3L1434.2 1523.3L1429.3 1520.6L1424.7 1517.3L1420.3 1513.3L1416.2 1508.6L1412.4 1503.3L1408.9 1497.4L1405.6 1490.8L1402.7 1483.7L1400.2 1475.9L1397.9 1467.7L1396 1458.9L1394.4 1449.6L1393.2 1439.8L1392.3 1429.5L1391.8 1418.8L1391.6 1407.8L1391.8 1396.3L1392.3 1384.5L1393.2 1372.5L1394.4 1360.1L1396 1347.5L1397.9 1334.7L1400.2 1321.8L1402.7 1308.7L1405.6 1295.5L1408.9 1282.2L1412.4 1269L1416.2 1255.7L1420.3 1242.5L1424.7 1229.4L1429.3 1216.4L1434.2 1203.5L1439.3 1190.9L1444.7 1178.5L1450.3 1166.3L1456 1154.4L1461.9 1142.9L1468 1131.7L1474.2 1120.9L1480.6 1110.6L1487.1 1100.6L1493.6 1091.2L1500.3 1082.2L1506.9 1073.8L1513.7 1065.9L1520.4 1058.6L1527.1 1051.9L1533.9 1045.8L1540.5 1040.3L1547.2 1035.5L1553.7 1031.3L1560.2 1027.7L1566.6 1024.9L1572.8 1022.7L1578.9 1021.2L1584.8 1020.4L1590.5 1020.3L1596.1 1020.9L1601.5 1022.2L1606.6 1024.2L1611.5 1026.9L1616.1 1030.2L1620.5 1034.2L1624.6 1038.9L1628.4 1044.2L1631.9 1050.1L1635.2 1056.7L1638.1 1063.8L1640.6 1071.6L1642.9 1079.8L1644.8 1088.6L1646.4 1097.9L1647.6 1107.7L1648.5 1118L1649 1128.7z" fill="none" stroke="#FF0000" stroke-width="1.6"/>
<circle cx="1079.4" cy="1161.9" r="5.2" fill="#0066FF"/>
<circle cx="1099.6" cy="1333.6" r="5.2" fill="#0066FF"/>
<circle cx="1196.9" cy="1329.3" r="5.2" fill="#0066FF"/>
<circle cx="1228.1" cy="1272.9" r="5.2" fill="#0066FF"/>
<circle cx="1240.1" cy="1316.7" r="5.2" fill="#0066FF"/>
<circle cx="1298.6" cy="1256.5" r="5.2" fill="#0066FF"/>
<circle cx="1343.5" cy="1290.4" r="5.2" fill="#0066FF"/>
<circle cx="1562.8" cy="975.5" r="5.2" fill="#FF0000"/>
<circle cx="1589" cy="1031.2" r="5.2" fill="#FF0000"/>
<circle cx="1568.2" cy="1080.5" r="5.2" fill="#FF0000"/>
<circle cx="1575.3" cy="1123.7" r="5.2" fill="#FF0000"/>
<circle cx="1484" cy="1152.1" r="5.2" fill="#FF0000"/>
<circle cx="1485.7" cy="1220.4" r="5.2" fill="#FF0000"/>
<circle cx="1478.6" cy="1325.4" r="5.2" fill="#FF0000"/>
<circle cx="1509.2" cy="1343.5" r="5.2" fill="#FF0000"/>
<circle cx="1404.2" cy="1347.9" r="5.2" fill="#FF0000"/>
<circle cx="1394.3" cy="1382.9" r="5.2" fill="#FF0000"/>
<circle cx="1403.1" cy="1406.9" r="5.2" fill="#FF0000"/>
<circle cx="1470.9" cy="1406.9" r="5.2" fill="#FF0000"/>
<circle cx="1526.1" cy="1448.5" r="5.2" fill="#FF0000"/>
<circle cx="1531" cy="1464.9" r="5.2" fill="#FF0000"/>
<circle cx="1728.5" cy="1548" r="5.2" fill="#FF0000"/>
<text x="1064" y="981.8" font-size="32" font-weight="bold">Group</text>
<line x1="1067" y1="1015" x2="1096.7" y2="1015" stroke="#0066FF" stroke-width="1.2"/>
<circle cx="1081.8" cy="1015" r="5.2" fill="#0066FF"/>
<text x="1112.4" y="1022" font-size="32">Cluster 1</text>
<line x1="1067" y1="1052.5" x2="1096.7" y2="1052.5" stroke="#FF0000" stroke-width="1.2"/>
<circle cx="1081.8" cy="1052.5" r="5.2" fill="#FF0000"/>
<text x="1112.4" y="1059.5" font-size="32">Cluster 2</text>
</g>
<g id="panelE">
<text x="0.5" y="1741.5" font-size="41" font-weight="bold">E</text>
<text transform="translate(294.4,1791.2) scale(1.1,1)" font-size="32" font-weight="bold">Group</text>
<line x1="415.2" y1="1769.6" x2="415.2" y2="1793.8" stroke="#0066FF" stroke-width="1.6"/>
<rect x="404" y="1773.6" width="22.4" height="16.2" fill="#fff" stroke="#0066FF" stroke-width="1.6"/>
<line x1="404" y1="1781.7" x2="426.4" y2="1781.7" stroke="#0066FF" stroke-width="1.6"/>
<circle cx="415.2" cy="1781.7" r="4.4" fill="#0066FF"/>
<text transform="translate(433.2,1790) scale(0.955,1)" font-size="25">Cluster1</text>
<line x1="543.9" y1="1769.6" x2="543.9" y2="1793.8" stroke="#FF0000" stroke-width="1.6"/>
<rect x="532.7" y="1773.6" width="22.4" height="16.2" fill="#fff" stroke="#FF0000" stroke-width="1.6"/>
<line x1="532.7" y1="1781.7" x2="555.1" y2="1781.7" stroke="#FF0000" stroke-width="1.6"/>
<circle cx="543.9" cy="1781.7" r="4.4" fill="#FF0000"/>
<text transform="translate(561.9,1790) scale(0.955,1)" font-size="25">Cluster2</text>
<path d="M74.9 1829.5V2245.9H861" fill="none" stroke="#000" stroke-width="1.6"/>
<line x1="69.6" y1="2158.5" x2="74.9" y2="2158.5" stroke="#000" stroke-width="1.6"/>
<text transform="translate(64.8,2169.3) scale(0.925,1)" font-size="32" text-anchor="end">6</text>
<line x1="69.6" y1="2046.8" x2="74.9" y2="2046.8" stroke="#000" stroke-width="1.6"/>
<text transform="translate(64.8,2057.6) scale(0.925,1)" font-size="32" text-anchor="end">8</text>
<line x1="69.6" y1="1935.1" x2="74.9" y2="1935.1" stroke="#000" stroke-width="1.6"/>
<text transform="translate(64.8,1945.9) scale(0.925,1)" font-size="32" text-anchor="end">10</text>
<line x1="150.5" y1="2245.9" x2="150.5" y2="2251.7" stroke="#000" stroke-width="1.6"/>
<text transform="translate(164.4,2267) rotate(-60)" font-size="32" text-anchor="end">CYBB</text>
<line x1="277.4" y1="2245.9" x2="277.4" y2="2251.7" stroke="#000" stroke-width="1.6"/>
<text transform="translate(291.8,2267) rotate(-60)" font-size="32" text-anchor="end">PRDX6</text>
<line x1="404.1" y1="2245.9" x2="404.1" y2="2251.7" stroke="#000" stroke-width="1.6"/>
<text transform="translate(414.5,2267) rotate(-60)" font-size="32" text-anchor="end">PTGS1</text>
<line x1="531" y1="2245.9" x2="531" y2="2251.7" stroke="#000" stroke-width="1.6"/>
<text transform="translate(548.4,2267) rotate(-60)" font-size="32" text-anchor="end">PIK3CG</text>
<line x1="657.8" y1="2245.9" x2="657.8" y2="2251.7" stroke="#000" stroke-width="1.6"/>
<text transform="translate(668,2267) rotate(-60)" font-size="32" text-anchor="end">GCH1</text>
<line x1="784.8" y1="2245.9" x2="784.8" y2="2251.7" stroke="#000" stroke-width="1.6"/>
<text transform="translate(796.5,2267) rotate(-60)" font-size="32" text-anchor="end">TLR2</text>
<text transform="translate(25.8,2042.2) scale(1.07,1) rotate(-90)" font-size="32.5" text-anchor="middle">Gene expression</text>
<text x="156.5" y="1847.3" font-size="22.4" text-anchor="middle">***</text>
<text x="275.9" y="1846.3" font-size="25.4" text-anchor="middle">ns</text>
<text x="406.6" y="1846.3" font-size="25.4" text-anchor="middle">ns</text>
<text x="535.3" y="1847.3" font-size="22.4" text-anchor="middle">**</text>
<text x="660.1" y="1847.3" font-size="22.4" text-anchor="middle">*</text>
<text x="790.7" y="1847.3" font-size="22.4" text-anchor="middle">***</text>
<line x1="125.1" y1="2057.8" x2="125.1" y2="2082.7" stroke="#0066FF" stroke-width="1.6"/>
<line x1="125.1" y1="2117" x2="125.1" y2="2125" stroke="#0066FF" stroke-width="1.6"/>
<rect x="99.9" y="2082.7" width="50.4" height="34.3" fill="none" stroke="#0066FF" stroke-width="1.7"/>
<line x1="99.9" y1="2110.5" x2="150.3" y2="2110.5" stroke="#0066FF" stroke-width="1.7"/>
<path d="M125.1 2057.8h0M125.1 2071.8h0M125.1 2094.3h0M125.1 2109.6h0M125.1 2113.1h0M125.1 2116.6h0M125.1 2121h0M125.1 2125h0" stroke="#0066FF" stroke-width="8.8" stroke-linecap="round" fill="none"/>
<line x1="175.9" y1="2135" x2="175.9" y2="2150.3" stroke="#FF0000" stroke-width="1.6"/>
<line x1="175.9" y1="2170.5" x2="175.9" y2="2183.7" stroke="#FF0000" stroke-width="1.6"/>
<rect x="150.7" y="2150.3" width="50.4" height="20.2" fill="none" stroke="#FF0000" stroke-width="1.7"/>
<line x1="150.7" y1="2159.6" x2="201.1" y2="2159.6" stroke="#FF0000" stroke-width="1.7"/>
<path d="M175.9 2135h0M175.9 2138.2h0M175.9 2141.4h0M175.9 2144.6h0M175.9 2147.8h0M175.9 2151h0M175.9 2154.2h0M175.9 2157.4h0M175.9 2160.6h0M175.9 2163.8h0M175.9 2167h0M175.9 2170.2h0M175.9 2173.4h0M175.9 2176.3h0M175.9 2183.7h0M175.9 2227.3h0" stroke="#FF0000" stroke-width="8.8" stroke-linecap="round" fill="none"/>
<line x1="252" y1="1871.8" x2="252" y2="1872.7" stroke="#0066FF" stroke-width="1.6"/>
<line x1="252" y1="1892.5" x2="252" y2="1895.9" stroke="#0066FF" stroke-width="1.6"/>
<rect x="226.8" y="1872.7" width="50.4" height="19.8" fill="none" stroke="#0066FF" stroke-width="1.7"/>
<line x1="226.8" y1="1882.7" x2="277.2" y2="1882.7" stroke="#0066FF" stroke-width="1.7"/>
<path d="M252 1871.8h0M252 1882.7h0M252 1892h0M252 1895.9h0" stroke="#0066FF" stroke-width="8.8" stroke-linecap="round" fill="none"/>
<line x1="302.8" y1="1856.5" x2="302.8" y2="1873.6" stroke="#FF0000" stroke-width="1.6"/>
<line x1="302.8" y1="1889.7" x2="302.8" y2="1903.4" stroke="#FF0000" stroke-width="1.6"/>
<rect x="277.6" y="1873.6" width="50.4" height="16.1" fill="none" stroke="#FF0000" stroke-width="1.7"/>
<line x1="277.6" y1="1881" x2="328" y2="1881" stroke="#FF0000" stroke-width="1.7"/>
<path d="M302.8 1856.5h0M302.8 1859.7h0M302.8 1862.9h0M302.8 1866.1h0M302.8 1869.3h0M302.8 1872.5h0M302.8 1875.7h0M302.8 1878.9h0M302.8 1882.1h0M302.8 1885.3h0M302.8 1888.5h0M302.8 1891.7h0M302.8 1894.7h0M302.8 1903.4h0" stroke="#FF0000" stroke-width="8.8" stroke-linecap="round" fill="none"/>
<line x1="378.7" y1="2042.2" x2="378.7" y2="2057.1" stroke="#0066FF" stroke-width="1.6"/>
<line x1="378.7" y1="2070.6" x2="378.7" y2="2080.4" stroke="#0066FF" stroke-width="1.6"/>
<rect x="353.5" y="2057.1" width="50.4" height="13.5" fill="none" stroke="#0066FF" stroke-width="1.7"/>
<line x1="353.5" y1="2065.3" x2="403.9" y2="2065.3" stroke="#0066FF" stroke-width="1.7"/>
<path d="M378.7 2042.2h0M378.7 2052.7h0M378.7 2055.9h0M378.7 2059.1h0M378.7 2062.3h0M378.7 2065.5h0M378.7 2068.7h0M378.7 2069.4h0M378.7 2075.5h0M378.7 2080.4h0" stroke="#0066FF" stroke-width="8.8" stroke-linecap="round" fill="none"/>
<line x1="429.5" y1="2044.8" x2="429.5" y2="2057.1" stroke="#FF0000" stroke-width="1.6"/>
<line x1="429.5" y1="2074.1" x2="429.5" y2="2088.4" stroke="#FF0000" stroke-width="1.6"/>
<rect x="404.3" y="2057.1" width="50.4" height="17" fill="none" stroke="#FF0000" stroke-width="1.7"/>
<line x1="404.3" y1="2066.4" x2="454.7" y2="2066.4" stroke="#FF0000" stroke-width="1.7"/>
<path d="M429.5 2044.8h0M429.5 2048h0M429.5 2051.2h0M429.5 2054.4h0M429.5 2057.6h0M429.5 2060.8h0M429.5 2064h0M429.5 2067.2h0M429.5 2070.4h0M429.5 2073.6h0M429.5 2076.8h0M429.5 2080h0M429.5 2081.7h0M429.5 2088.4h0" stroke="#FF0000" stroke-width="8.8" stroke-linecap="round" fill="none"/>
<line x1="505.6" y1="2160.2" x2="505.6" y2="2169.5" stroke="#0066FF" stroke-width="1.6"/>
<line x1="505.6" y1="2180" x2="505.6" y2="2188.3" stroke="#0066FF" stroke-width="1.6"/>
<rect x="480.4" y="2169.5" width="50.4" height="10.5" fill="none" stroke="#0066FF" stroke-width="1.7"/>
<line x1="480.4" y1="2177.8" x2="530.8" y2="2177.8" stroke="#0066FF" stroke-width="1.7"/>
<path d="M505.6 2160.2h0M505.6 2166h0M505.6 2169.2h0M505.6 2172.4h0M505.6 2175.6h0M505.6 2178.8h0M505.6 2182h0M505.6 2182.7h0M505.6 2188.3h0" stroke="#0066FF" stroke-width="8.8" stroke-linecap="round" fill="none"/>
<line x1="556.4" y1="2166" x2="556.4" y2="2187.1" stroke="#FF0000" stroke-width="1.6"/>
<line x1="556.4" y1="2203.8" x2="556.4" y2="2227.8" stroke="#FF0000" stroke-width="1.6"/>
<rect x="531.2" y="2187.1" width="50.4" height="16.7" fill="none" stroke="#FF0000" stroke-width="1.7"/>
<line x1="531.2" y1="2189.7" x2="581.6" y2="2189.7" stroke="#FF0000" stroke-width="1.7"/>
<path d="M556.4 2166h0M556.4 2173.9h0M556.4 2186.2h0M556.4 2189.4h0M556.4 2192.6h0M556.4 2195.8h0M556.4 2199h0M556.4 2202.2h0M556.4 2205.4h0M556.4 2208.6h0M556.4 2211.8h0M556.4 2213.4h0M556.4 2227.8h0" stroke="#FF0000" stroke-width="8.8" stroke-linecap="round" fill="none"/>
<line x1="632.4" y1="2130.4" x2="632.4" y2="2143.6" stroke="#0066FF" stroke-width="1.6"/>
<line x1="632.4" y1="2160.2" x2="632.4" y2="2162.9" stroke="#0066FF" stroke-width="1.6"/>
<rect x="607.2" y="2143.6" width="50.4" height="16.6" fill="none" stroke="#0066FF" stroke-width="1.7"/>
<line x1="607.2" y1="2144.8" x2="657.6" y2="2144.8" stroke="#0066FF" stroke-width="1.7"/>
<path d="M632.4 2130.4h0M632.4 2142.7h0M632.4 2145.3h0M632.4 2160.2h0M632.4 2162.9h0" stroke="#0066FF" stroke-width="8.8" stroke-linecap="round" fill="none"/>
<line x1="683.2" y1="2143.6" x2="683.2" y2="2156.2" stroke="#FF0000" stroke-width="1.6"/>
<line x1="683.2" y1="2193.1" x2="683.2" y2="2225.2" stroke="#FF0000" stroke-width="1.6"/>
<rect x="658" y="2156.2" width="50.4" height="36.9" fill="none" stroke="#FF0000" stroke-width="1.7"/>
<line x1="658" y1="2168.5" x2="708.4" y2="2168.5" stroke="#FF0000" stroke-width="1.7"/>
<path d="M683.2 2143.6h0M683.2 2148.8h0M683.2 2152h0M683.2 2155.2h0M683.2 2158.4h0M683.2 2161.6h0M683.2 2164.8h0M683.2 2168h0M683.2 2169.9h0M683.2 2183.1h0M683.2 2189.2h0M683.2 2197.5h0M683.2 2208.6h0M683.2 2216.8h0M683.2 2225.2h0" stroke="#FF0000" stroke-width="8.8" stroke-linecap="round" fill="none"/>
<line x1="759.4" y1="1994.3" x2="759.4" y2="2013.2" stroke="#0066FF" stroke-width="1.6"/>
<line x1="759.4" y1="2043.8" x2="759.4" y2="2051.7" stroke="#0066FF" stroke-width="1.6"/>
<rect x="734.2" y="2013.2" width="50.4" height="30.6" fill="none" stroke="#0066FF" stroke-width="1.7"/>
<line x1="734.2" y1="2022.7" x2="784.6" y2="2022.7" stroke="#0066FF" stroke-width="1.7"/>
<path d="M759.4 1994.3h0M759.4 2012.7h0M759.4 2014.5h0M759.4 2022.7h0M759.4 2040.8h0M759.4 2044.3h0M759.4 2047.8h0M759.4 2051.7h0" stroke="#0066FF" stroke-width="8.8" stroke-linecap="round" fill="none"/>
<line x1="810.2" y1="2049.6" x2="810.2" y2="2056.3" stroke="#FF0000" stroke-width="1.6"/>
<line x1="810.2" y1="2077.7" x2="810.2" y2="2100" stroke="#FF0000" stroke-width="1.6"/>
<rect x="785" y="2056.3" width="50.4" height="21.4" fill="none" stroke="#FF0000" stroke-width="1.7"/>
<line x1="785" y1="2061.4" x2="835.4" y2="2061.4" stroke="#FF0000" stroke-width="1.7"/>
<path d="M810.2 2049.6h0M810.2 2052.8h0M810.2 2056h0M810.2 2059.2h0M810.2 2062.4h0M810.2 2065.6h0M810.2 2068.8h0M810.2 2072h0M810.2 2075.2h0M810.2 2078.4h0M810.2 2081.6h0M810.2 2084.7h0M810.2 2091.7h0M810.2 2100h0" stroke="#FF0000" stroke-width="8.8" stroke-linecap="round" fill="none"/>
</g>
<g id="panelF">
<text x="938.4" y="1741.5" font-size="41" font-weight="bold">F</text>
<text transform="translate(938.4,1809) scale(1.1,1)" font-size="32" font-weight="bold">Group</text>
<rect x="942.2" y="1817.3" width="18.9" height="18.1" fill="#0066FF" stroke="#999999" stroke-width="1"/>
<rect x="942.2" y="1835.4" width="18.9" height="18.1" fill="#FF0000" stroke="#999999" stroke-width="1"/>
<text transform="translate(965.3,1832.7) scale(1.03,1)" font-size="25">Cluster 1</text>
<text transform="translate(965.3,1852.2) scale(1.03,1)" font-size="25">Cluster 2</text>
<g shape-rendering="crispEdges">
<rect x="1068.8" y="1799" width="30.4" height="11.6" fill="#0066FF" stroke="#999999" stroke-width="1"/>
<rect x="1099.2" y="1799" width="30.4" height="11.6" fill="#0066FF" stroke="#999999" stroke-width="1"/>
<rect x="1129.6" y="1799" width="30.4" height="11.6" fill="#0066FF" stroke="#999999" stroke-width="1"/>
<rect x="1160" y="1799" width="30.4" height="11.6" fill="#0066FF" stroke="#999999" stroke-width="1"/>
<rect x="1190.4" y="1799" width="30.4" height="11.6" fill="#0066FF" stroke="#999999" stroke-width="1"/>
<rect x="1220.8" y="1799" width="30.4" height="11.6" fill="#0066FF" stroke="#999999" stroke-width="1"/>
<rect x="1251.2" y="1799" width="30.4" height="11.6" fill="#0066FF" stroke="#999999" stroke-width="1"/>
<rect x="1281.6" y="1799" width="30.4" height="11.6" fill="#FF0000" stroke="#999999" stroke-width="1"/>
<rect x="1312" y="1799" width="30.4" height="11.6" fill="#FF0000" stroke="#999999" stroke-width="1"/>
<rect x="1342.4" y="1799" width="30.4" height="11.6" fill="#FF0000" stroke="#999999" stroke-width="1"/>
<rect x="1372.8" y="1799" width="30.4" height="11.6" fill="#FF0000" stroke="#999999" stroke-width="1"/>
<rect x="1403.2" y="1799" width="30.4" height="11.6" fill="#FF0000" stroke="#999999" stroke-width="1"/>
<rect x="1433.5" y="1799" width="30.4" height="11.6" fill="#FF0000" stroke="#999999" stroke-width="1"/>
<rect x="1463.9" y="1799" width="30.4" height="11.6" fill="#FF0000" stroke="#999999" stroke-width="1"/>
<rect x="1494.3" y="1799" width="30.4" height="11.6" fill="#FF0000" stroke="#999999" stroke-width="1"/>
<rect x="1524.7" y="1799" width="30.4" height="11.6" fill="#FF0000" stroke="#999999" stroke-width="1"/>
<rect x="1555.1" y="1799" width="30.4" height="11.6" fill="#FF0000" stroke="#999999" stroke-width="1"/>
<rect x="1585.5" y="1799" width="30.4" height="11.6" fill="#FF0000" stroke="#999999" stroke-width="1"/>
<rect x="1615.9" y="1799" width="30.4" height="11.6" fill="#FF0000" stroke="#999999" stroke-width="1"/>
<rect x="1646.3" y="1799" width="30.4" height="11.6" fill="#FF0000" stroke="#999999" stroke-width="1"/>
<rect x="1676.7" y="1799" width="30.4" height="11.6" fill="#FF0000" stroke="#999999" stroke-width="1"/>
<rect x="1707.1" y="1799" width="30.4" height="11.6" fill="#FF0000" stroke="#999999" stroke-width="1"/>
<rect x="1068.8" y="1816" width="30.4" height="89.1" fill="#FF4040" stroke="#999999" stroke-width="1"/>
<rect x="1099.2" y="1816" width="30.4" height="89.1" fill="#FFB2B2" stroke="#999999" stroke-width="1"/>
<rect x="1129.6" y="1816" width="30.4" height="89.1" fill="#FF2E2E" stroke="#999999" stroke-width="1"/>
<rect x="1160" y="1816" width="30.4" height="89.1" fill="#FFBFBF" stroke="#999999" stroke-width="1"/>
<rect x="1190.4" y="1816" width="30.4" height="89.1" fill="#FFD9D9" stroke="#999999" stroke-width="1"/>
<rect x="1220.8" y="1816" width="30.4" height="89.1" fill="#FF0000" stroke="#999999" stroke-width="1"/>
<rect x="1251.2" y="1816" width="30.4" height="89.1" fill="#FF4040" stroke="#999999" stroke-width="1"/>
<rect x="1281.6" y="1816" width="30.4" height="89.1" fill="#0000FF" stroke="#999999" stroke-width="1"/>
<rect x="1312" y="1816" width="30.4" height="89.1" fill="#0000FF" stroke="#999999" stroke-width="1"/>
<rect x="1342.4" y="1816" width="30.4" height="89.1" fill="#7373FF" stroke="#999999" stroke-width="1"/>
<rect x="1372.8" y="1816" width="30.4" height="89.1" fill="#4D4DFF" stroke="#999999" stroke-width="1"/>
<rect x="1403.2" y="1816" width="30.4" height="89.1" fill="#0000FF" stroke="#999999" stroke-width="1"/>
<rect x="1433.5" y="1816" width="30.4" height="89.1" fill="#0000FF" stroke="#999999" stroke-width="1"/>
<rect x="1463.9" y="1816" width="30.4" height="89.1" fill="#FFBFBF" stroke="#999999" stroke-width="1"/>
<rect x="1494.3" y="1816" width="30.4" height="89.1" fill="#FF3838" stroke="#999999" stroke-width="1"/>
<rect x="1524.7" y="1816" width="30.4" height="89.1" fill="#FF8787" stroke="#999999" stroke-width="1"/>
<rect x="1555.1" y="1816" width="30.4" height="89.1" fill="#F0F0FF" stroke="#999999" stroke-width="1"/>
<rect x="1585.5" y="1816" width="30.4" height="89.1" fill="#FAFAFF" stroke="#999999" stroke-width="1"/>
<rect x="1615.9" y="1816" width="30.4" height="89.1" fill="#FFB2B2" stroke="#999999" stroke-width="1"/>
<rect x="1646.3" y="1816" width="30.4" height="89.1" fill="#FF8080" stroke="#999999" stroke-width="1"/>
<rect x="1676.7" y="1816" width="30.4" height="89.1" fill="#FFCCCC" stroke="#999999" stroke-width="1"/>
<rect x="1707.1" y="1816" width="30.4" height="89.1" fill="#FF6666" stroke="#999999" stroke-width="1"/>
<rect x="1068.8" y="1905.1" width="30.4" height="89.1" fill="#FF4D4D" stroke="#999999" stroke-width="1"/>
<rect x="1099.2" y="1905.1" width="30.4" height="89.1" fill="#FF5E5E" stroke="#999999" stroke-width="1"/>
<rect x="1129.6" y="1905.1" width="30.4" height="89.1" fill="#FF7373" stroke="#999999" stroke-width="1"/>
<rect x="1160" y="1905.1" width="30.4" height="89.1" fill="#4040FF" stroke="#999999" stroke-width="1"/>
<rect x="1190.4" y="1905.1" width="30.4" height="89.1" fill="#0000FF" stroke="#999999" stroke-width="1"/>
<rect x="1220.8" y="1905.1" width="30.4" height="89.1" fill="#2B2BFF" stroke="#999999" stroke-width="1"/>
<rect x="1251.2" y="1905.1" width="30.4" height="89.1" fill="#E6E6FF" stroke="#999999" stroke-width="1"/>
<rect x="1281.6" y="1905.1" width="30.4" height="89.1" fill="#FFE6E6" stroke="#999999" stroke-width="1"/>
<rect x="1312" y="1905.1" width="30.4" height="89.1" fill="#FFEDED" stroke="#999999" stroke-width="1"/>
<rect x="1342.4" y="1905.1" width="30.4" height="89.1" fill="#FF5E5E" stroke="#999999" stroke-width="1"/>
<rect x="1372.8" y="1905.1" width="30.4" height="89.1" fill="#FF8585" stroke="#999999" stroke-width="1"/>
<rect x="1403.2" y="1905.1" width="30.4" height="89.1" fill="#FF0000" stroke="#999999" stroke-width="1"/>
<rect x="1433.5" y="1905.1" width="30.4" height="89.1" fill="#FF0000" stroke="#999999" stroke-width="1"/>
<rect x="1463.9" y="1905.1" width="30.4" height="89.1" fill="#BABAFF" stroke="#999999" stroke-width="1"/>
<rect x="1494.3" y="1905.1" width="30.4" height="89.1" fill="#FF0000" stroke="#999999" stroke-width="1"/>
<rect x="1524.7" y="1905.1" width="30.4" height="89.1" fill="#3838FF" stroke="#999999" stroke-width="1"/>
<rect x="1555.1" y="1905.1" width="30.4" height="89.1" fill="#6161FF" stroke="#999999" stroke-width="1"/>
<rect x="1585.5" y="1905.1" width="30.4" height="89.1" fill="#0000FF" stroke="#999999" stroke-width="1"/>
<rect x="1615.9" y="1905.1" width="30.4" height="89.1" fill="#2B2BFF" stroke="#999999" stroke-width="1"/>
<rect x="1646.3" y="1905.1" width="30.4" height="89.1" fill="#FFD9D9" stroke="#999999" stroke-width="1"/>
<rect x="1676.7" y="1905.1" width="30.4" height="89.1" fill="#8080FF" stroke="#999999" stroke-width="1"/>
<rect x="1707.1" y="1905.1" width="30.4" height="89.1" fill="#A6A6FF" stroke="#999999" stroke-width="1"/>
<rect x="1068.8" y="1994.1" width="30.4" height="89.1" fill="#FF0000" stroke="#999999" stroke-width="1"/>
<rect x="1099.2" y="1994.1" width="30.4" height="89.1" fill="#FFA1A1" stroke="#999999" stroke-width="1"/>
<rect x="1129.6" y="1994.1" width="30.4" height="89.1" fill="#FF4747" stroke="#999999" stroke-width="1"/>
<rect x="1160" y="1994.1" width="30.4" height="89.1" fill="#5454FF" stroke="#999999" stroke-width="1"/>
<rect x="1190.4" y="1994.1" width="30.4" height="89.1" fill="#FAFAFF" stroke="#999999" stroke-width="1"/>
<rect x="1220.8" y="1994.1" width="30.4" height="89.1" fill="#0000FF" stroke="#999999" stroke-width="1"/>
<rect x="1251.2" y="1994.1" width="30.4" height="89.1" fill="#FAFAFF" stroke="#999999" stroke-width="1"/>
<rect x="1281.6" y="1994.1" width="30.4" height="89.1" fill="#BFBFFF" stroke="#999999" stroke-width="1"/>
<rect x="1312" y="1994.1" width="30.4" height="89.1" fill="#FF0000" stroke="#999999" stroke-width="1"/>
<rect x="1342.4" y="1994.1" width="30.4" height="89.1" fill="#FFABAB" stroke="#999999" stroke-width="1"/>
<rect x="1372.8" y="1994.1" width="30.4" height="89.1" fill="#FF0000" stroke="#999999" stroke-width="1"/>
<rect x="1403.2" y="1994.1" width="30.4" height="89.1" fill="#FF4040" stroke="#999999" stroke-width="1"/>
<rect x="1433.5" y="1994.1" width="30.4" height="89.1" fill="#FF0000" stroke="#999999" stroke-width="1"/>
<rect x="1463.9" y="1994.1" width="30.4" height="89.1" fill="#1212FF" stroke="#999999" stroke-width="1"/>
<rect x="1494.3" y="1994.1" width="30.4" height="89.1" fill="#FFFAFA" stroke="#999999" stroke-width="1"/>
<rect x="1524.7" y="1994.1" width="30.4" height="89.1" fill="#8C8CFF" stroke="#999999" stroke-width="1"/>
<rect x="1555.1" y="1994.1" width="30.4" height="89.1" fill="#4D4DFF" stroke="#999999" stroke-width="1"/>
<rect x="1585.5" y="1994.1" width="30.4" height="89.1" fill="#EDEDFF" stroke="#999999" stroke-width="1"/>
<rect x="1615.9" y="1994.1" width="30.4" height="89.1" fill="#0000FF" stroke="#999999" stroke-width="1"/>
<rect x="1646.3" y="1994.1" width="30.4" height="89.1" fill="#0000FF" stroke="#999999" stroke-width="1"/>
<rect x="1676.7" y="1994.1" width="30.4" height="89.1" fill="#EDEDFF" stroke="#999999" stroke-width="1"/>
<rect x="1707.1" y="1994.1" width="30.4" height="89.1" fill="#7373FF" stroke="#999999" stroke-width="1"/>
<rect x="1068.8" y="2083.2" width="30.4" height="89.1" fill="#FF0000" stroke="#999999" stroke-width="1"/>
<rect x="1099.2" y="2083.2" width="30.4" height="89.1" fill="#FF0000" stroke="#999999" stroke-width="1"/>
<rect x="1129.6" y="2083.2" width="30.4" height="89.1" fill="#FF2E2E" stroke="#999999" stroke-width="1"/>
<rect x="1160" y="2083.2" width="30.4" height="89.1" fill="#FF8080" stroke="#999999" stroke-width="1"/>
<rect x="1190.4" y="2083.2" width="30.4" height="89.1" fill="#FFB2B2" stroke="#999999" stroke-width="1"/>
<rect x="1220.8" y="2083.2" width="30.4" height="89.1" fill="#FF8080" stroke="#999999" stroke-width="1"/>
<rect x="1251.2" y="2083.2" width="30.4" height="89.1" fill="#FAFAFF" stroke="#999999" stroke-width="1"/>
<rect x="1281.6" y="2083.2" width="30.4" height="89.1" fill="#FF0000" stroke="#999999" stroke-width="1"/>
<rect x="1312" y="2083.2" width="30.4" height="89.1" fill="#8080FF" stroke="#999999" stroke-width="1"/>
<rect x="1342.4" y="2083.2" width="30.4" height="89.1" fill="#E6E6FF" stroke="#999999" stroke-width="1"/>
<rect x="1372.8" y="2083.2" width="30.4" height="89.1" fill="#EDEDFF" stroke="#999999" stroke-width="1"/>
<rect x="1403.2" y="2083.2" width="30.4" height="89.1" fill="#FF5E5E" stroke="#999999" stroke-width="1"/>
<rect x="1433.5" y="2083.2" width="30.4" height="89.1" fill="#FF4040" stroke="#999999" stroke-width="1"/>
<rect x="1463.9" y="2083.2" width="30.4" height="89.1" fill="#0000FF" stroke="#999999" stroke-width="1"/>
<rect x="1494.3" y="2083.2" width="30.4" height="89.1" fill="#0000FF" stroke="#999999" stroke-width="1"/>
<rect x="1524.7" y="2083.2" width="30.4" height="89.1" fill="#4040FF" stroke="#999999" stroke-width="1"/>
<rect x="1555.1" y="2083.2" width="30.4" height="89.1" fill="#FAFAFF" stroke="#999999" stroke-width="1"/>
<rect x="1585.5" y="2083.2" width="30.4" height="89.1" fill="#FFE6E6" stroke="#999999" stroke-width="1"/>
<rect x="1615.9" y="2083.2" width="30.4" height="89.1" fill="#2B2BFF" stroke="#999999" stroke-width="1"/>
<rect x="1646.3" y="2083.2" width="30.4" height="89.1" fill="#6B6BFF" stroke="#999999" stroke-width="1"/>
<rect x="1676.7" y="2083.2" width="30.4" height="89.1" fill="#0D0DFF" stroke="#999999" stroke-width="1"/>
<rect x="1707.1" y="2083.2" width="30.4" height="89.1" fill="#FAFAFF" stroke="#999999" stroke-width="1"/>
<rect x="1068.8" y="2172.3" width="30.4" height="89.1" fill="#FF5E5E" stroke="#999999" stroke-width="1"/>
<rect x="1099.2" y="2172.3" width="30.4" height="89.1" fill="#FF0000" stroke="#999999" stroke-width="1"/>
<rect x="1129.6" y="2172.3" width="30.4" height="89.1" fill="#FF6E6E" stroke="#999999" stroke-width="1"/>
<rect x="1160" y="2172.3" width="30.4" height="89.1" fill="#FF9999" stroke="#999999" stroke-width="1"/>
<rect x="1190.4" y="2172.3" width="30.4" height="89.1" fill="#FF4D4D" stroke="#999999" stroke-width="1"/>
<rect x="1220.8" y="2172.3" width="30.4" height="89.1" fill="#FF0000" stroke="#999999" stroke-width="1"/>
<rect x="1251.2" y="2172.3" width="30.4" height="89.1" fill="#FF0000" stroke="#999999" stroke-width="1"/>
<rect x="1281.6" y="2172.3" width="30.4" height="89.1" fill="#8080FF" stroke="#999999" stroke-width="1"/>
<rect x="1312" y="2172.3" width="30.4" height="89.1" fill="#8080FF" stroke="#999999" stroke-width="1"/>
<rect x="1342.4" y="2172.3" width="30.4" height="89.1" fill="#ADADFF" stroke="#999999" stroke-width="1"/>
<rect x="1372.8" y="2172.3" width="30.4" height="89.1" fill="#E6E6FF" stroke="#999999" stroke-width="1"/>
<rect x="1403.2" y="2172.3" width="30.4" height="89.1" fill="#B0B0FF" stroke="#999999" stroke-width="1"/>
<rect x="1433.5" y="2172.3" width="30.4" height="89.1" fill="#8080FF" stroke="#999999" stroke-width="1"/>
<rect x="1463.9" y="2172.3" width="30.4" height="89.1" fill="#4040FF" stroke="#999999" stroke-width="1"/>
<rect x="1494.3" y="2172.3" width="30.4" height="89.1" fill="#0000FF" stroke="#999999" stroke-width="1"/>
<rect x="1524.7" y="2172.3" width="30.4" height="89.1" fill="#1919FF" stroke="#999999" stroke-width="1"/>
<rect x="1555.1" y="2172.3" width="30.4" height="89.1" fill="#9E9EFF" stroke="#999999" stroke-width="1"/>
<rect x="1585.5" y="2172.3" width="30.4" height="89.1" fill="#4D4DFF" stroke="#999999" stroke-width="1"/>
<rect x="1615.9" y="2172.3" width="30.4" height="89.1" fill="#FFEDED" stroke="#999999" stroke-width="1"/>
<rect x="1646.3" y="2172.3" width="30.4" height="89.1" fill="#C4C4FF" stroke="#999999" stroke-width="1"/>
<rect x="1676.7" y="2172.3" width="30.4" height="89.1" fill="#FFCCCC" stroke="#999999" stroke-width="1"/>
<rect x="1707.1" y="2172.3" width="30.4" height="89.1" fill="#FAFAFF" stroke="#999999" stroke-width="1"/>
<rect x="1068.8" y="2261.3" width="30.4" height="89.1" fill="#FF0000" stroke="#999999" stroke-width="1"/>
<rect x="1099.2" y="2261.3" width="30.4" height="89.1" fill="#FF0000" stroke="#999999" stroke-width="1"/>
<rect x="1129.6" y="2261.3" width="30.4" height="89.1" fill="#FF0000" stroke="#999999" stroke-width="1"/>
<rect x="1160" y="2261.3" width="30.4" height="89.1" fill="#FFE6E6" stroke="#999999" stroke-width="1"/>
<rect x="1190.4" y="2261.3" width="30.4" height="89.1" fill="#FFBFBF" stroke="#999999" stroke-width="1"/>
<rect x="1220.8" y="2261.3" width="30.4" height="89.1" fill="#FF8787" stroke="#999999" stroke-width="1"/>
<rect x="1251.2" y="2261.3" width="30.4" height="89.1" fill="#FF0000" stroke="#999999" stroke-width="1"/>
<rect x="1281.6" y="2261.3" width="30.4" height="89.1" fill="#0000FF" stroke="#999999" stroke-width="1"/>
<rect x="1312" y="2261.3" width="30.4" height="89.1" fill="#4747FF" stroke="#999999" stroke-width="1"/>
<rect x="1342.4" y="2261.3" width="30.4" height="89.1" fill="#D9D9FF" stroke="#999999" stroke-width="1"/>
<rect x="1372.8" y="2261.3" width="30.4" height="89.1" fill="#8080FF" stroke="#999999" stroke-width="1"/>
<rect x="1403.2" y="2261.3" width="30.4" height="89.1" fill="#3838FF" stroke="#999999" stroke-width="1"/>
<rect x="1433.5" y="2261.3" width="30.4" height="89.1" fill="#0D0DFF" stroke="#999999" stroke-width="1"/>
<rect x="1463.9" y="2261.3" width="30.4" height="89.1" fill="#EDEDFF" stroke="#999999" stroke-width="1"/>
<rect x="1494.3" y="2261.3" width="30.4" height="89.1" fill="#0000FF" stroke="#999999" stroke-width="1"/>
<rect x="1524.7" y="2261.3" width="30.4" height="89.1" fill="#EDEDFF" stroke="#999999" stroke-width="1"/>
<rect x="1555.1" y="2261.3" width="30.4" height="89.1" fill="#C4C4FF" stroke="#999999" stroke-width="1"/>
<rect x="1585.5" y="2261.3" width="30.4" height="89.1" fill="#E6E6FF" stroke="#999999" stroke-width="1"/>
<rect x="1615.9" y="2261.3" width="30.4" height="89.1" fill="#FFE6E6" stroke="#999999" stroke-width="1"/>
<rect x="1646.3" y="2261.3" width="30.4" height="89.1" fill="#7373FF" stroke="#999999" stroke-width="1"/>
<rect x="1676.7" y="2261.3" width="30.4" height="89.1" fill="#FAFAFF" stroke="#999999" stroke-width="1"/>
<rect x="1707.1" y="2261.3" width="30.4" height="89.1" fill="#FFCCCC" stroke="#999999" stroke-width="1"/>
</g>
<text transform="translate(1748,1869.1) scale(1.07,1)" font-size="32">GCH1</text>
<text transform="translate(1748,1958.2) scale(1.07,1)" font-size="32">PRDX6</text>
<text transform="translate(1748,2047.3) scale(1.07,1)" font-size="32">PTGS1</text>
<text transform="translate(1748,2136.3) scale(1.07,1)" font-size="32">PIK3CG</text>
<text transform="translate(1748,2225.4) scale(1.07,1)" font-size="32">CYBB</text>
<text transform="translate(1748,2314.5) scale(1.07,1)" font-size="32">TLR2</text>
<path d="M1031.1 1860.5L1068.8 1860.5M1031.1 1860.5L1031.1 2094.4M1031.1 2094.4L1033.9 2094.4M1033.9 1994.3L1033.9 2194.2M1033.9 1994.3L1049.6 1994.3M1049.6 1949.6L1049.6 2038.7M1049.6 1949.6L1068.8 1949.6M1049.6 2038.7L1068.8 2038.7M1033.9 2194.2L1045.7 2194.2M1045.7 2127.7L1045.7 2261.1M1045.7 2127.7L1068.8 2127.7M1045.7 2261.1L1054.3 2261.1M1054.3 2216.8L1054.3 2305.9M1054.3 2216.8L1068.8 2216.8M1054.3 2305.9L1068.8 2305.9" fill="none" stroke="#444" stroke-width="1.1" stroke-linecap="square"/>
<defs><linearGradient id="cb" x1="0" y1="0" x2="0" y2="1"><stop offset="0" stop-color="#FF0000"/><stop offset="0.285" stop-color="#FF0000"/><stop offset="0.505" stop-color="#FFFFFF"/><stop offset="0.725" stop-color="#0000FF"/><stop offset="1" stop-color="#0000FF"/></linearGradient></defs>
<rect x="997.9" y="1942" width="18.9" height="264.9" fill="url(#cb)"/>
<text transform="translate(989.7,1971.8) scale(1.1,1)" font-size="23" text-anchor="end">2</text>
<text transform="translate(989.7,2027) scale(1.1,1)" font-size="23" text-anchor="end">1</text>
<text transform="translate(989.7,2082.2) scale(1.1,1)" font-size="23" text-anchor="end">0</text>
<text transform="translate(989.7,2137.4) scale(1.1,1)" font-size="23" text-anchor="end">−1</text>
<text transform="translate(989.7,2192.6) scale(1.1,1)" font-size="23" text-anchor="end">−2</text>
<text transform="translate(957.9,2074.4) scale(1.08,1) rotate(-90)" font-size="32.6" text-anchor="middle">Expression</text>
</g>
</svg>
</body>
</html>
